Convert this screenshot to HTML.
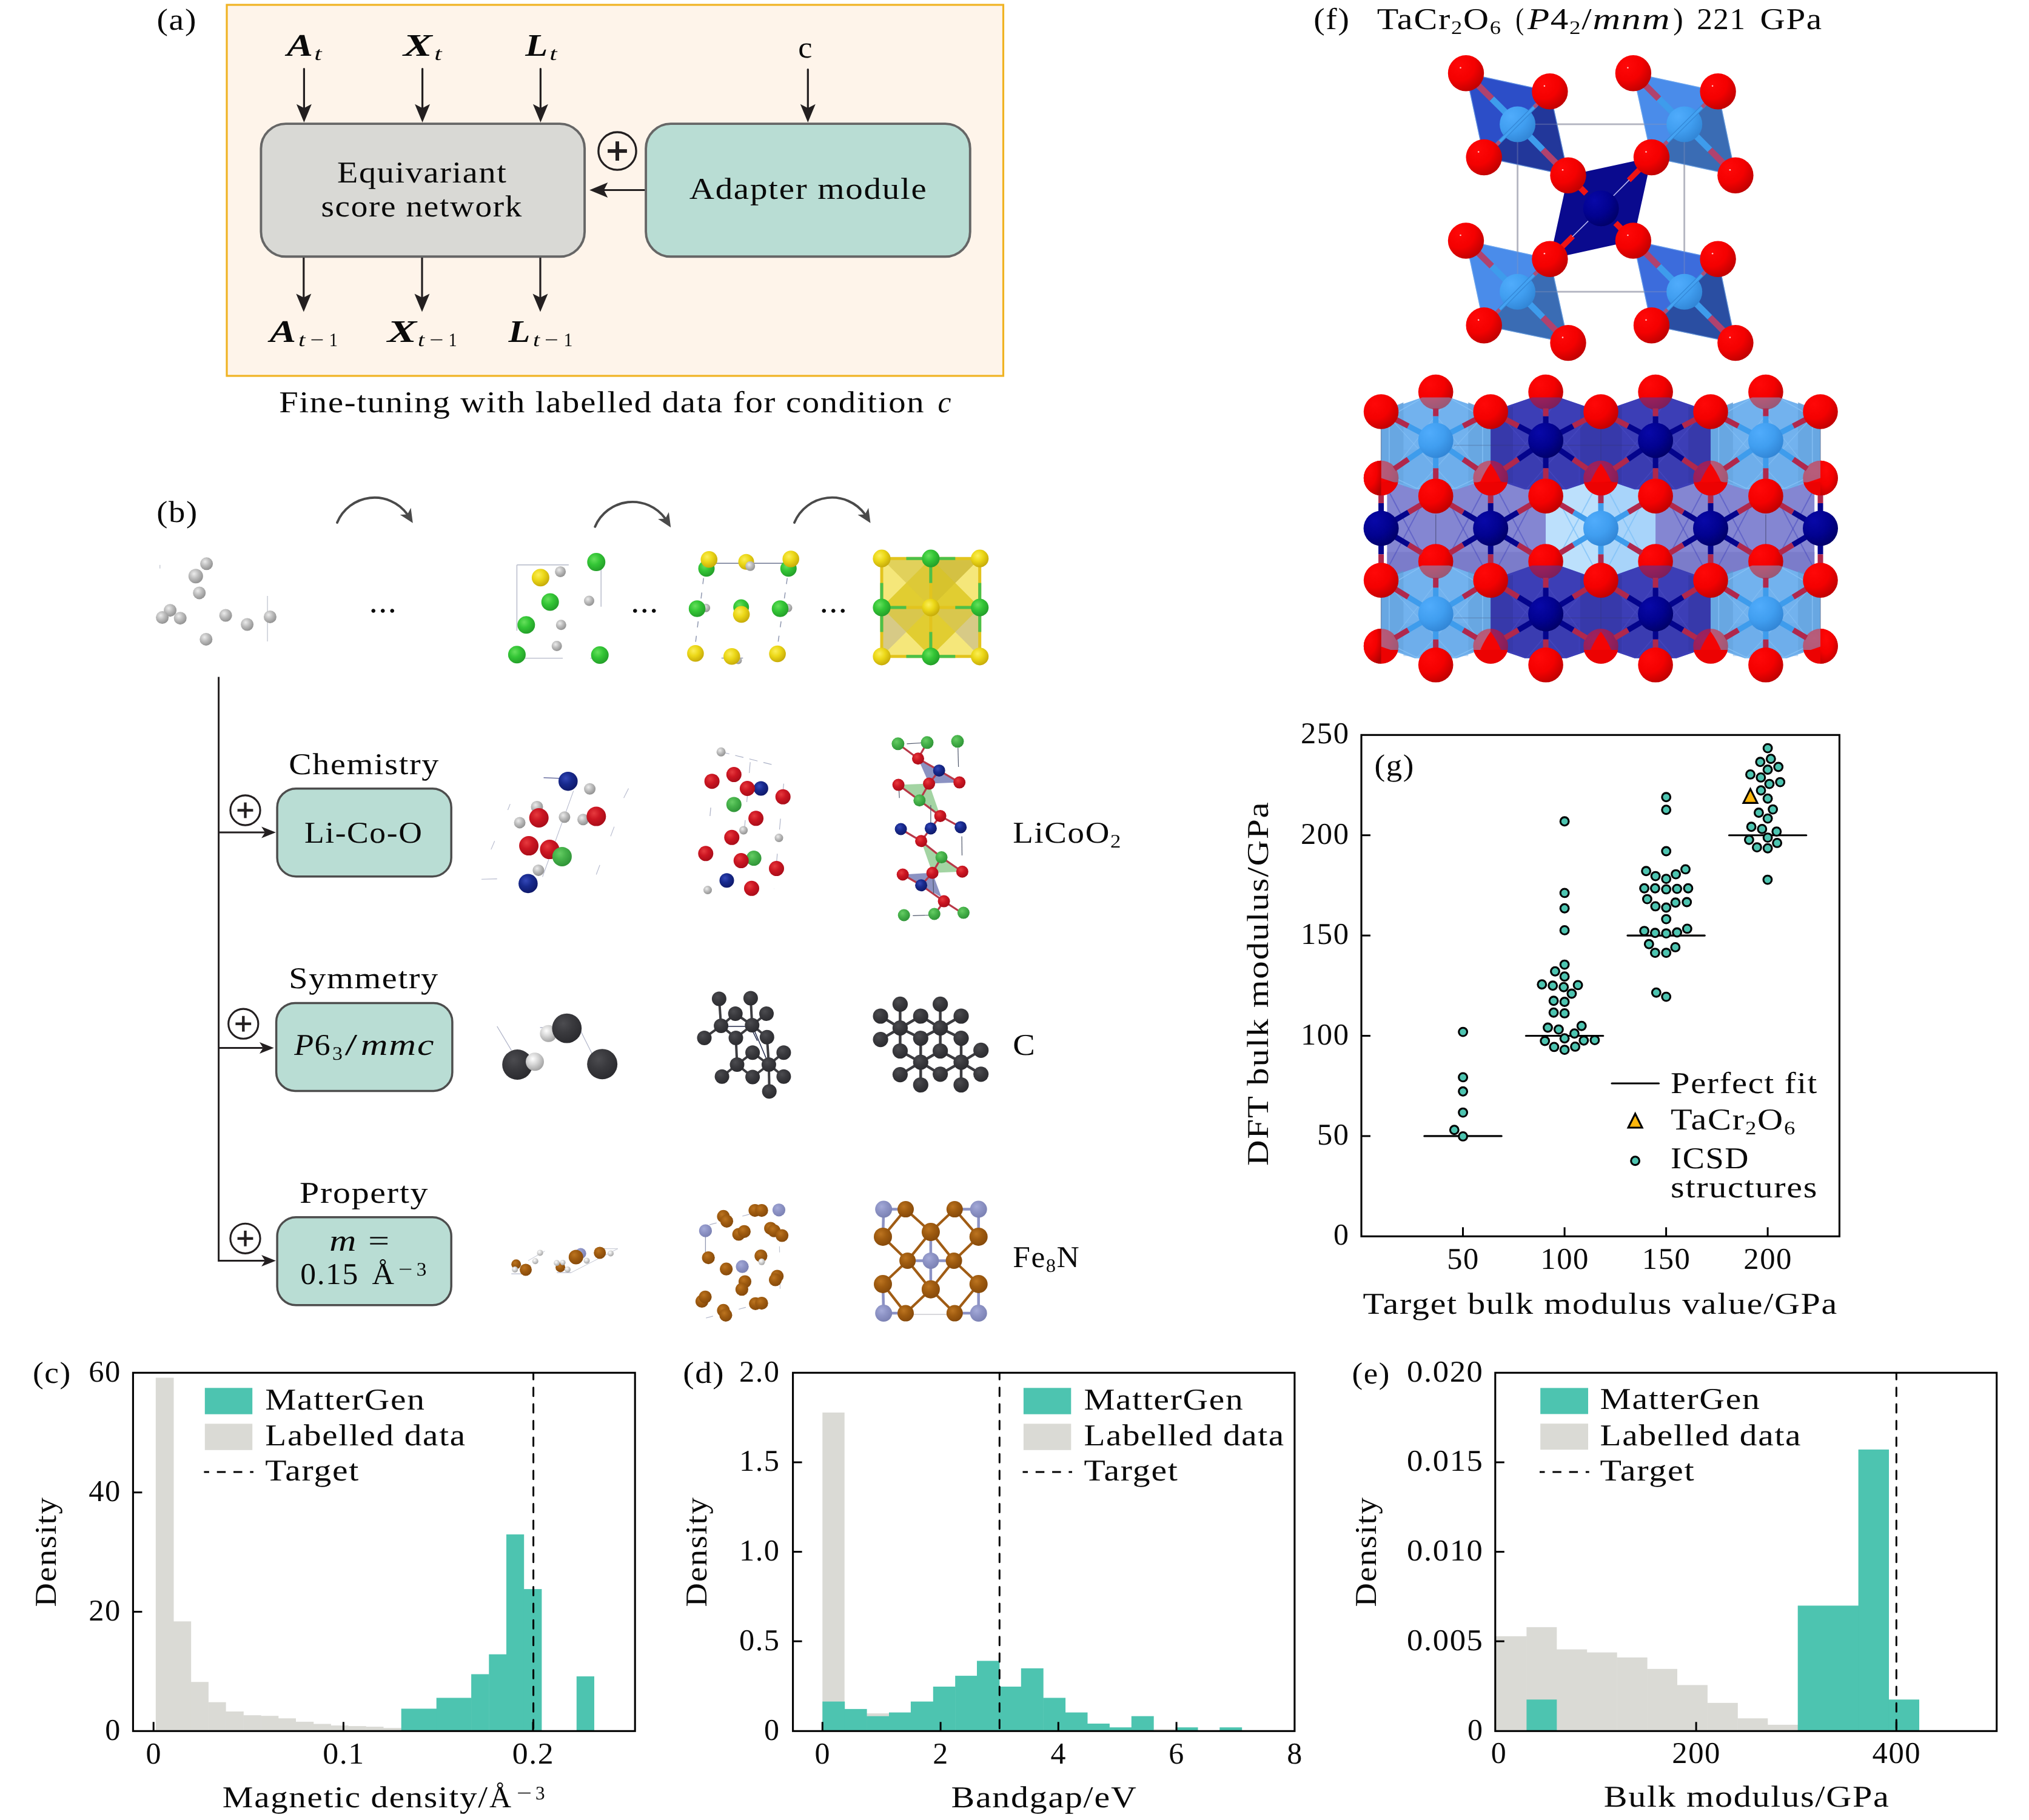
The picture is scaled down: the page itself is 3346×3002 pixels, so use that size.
<!DOCTYPE html>
<html><head><meta charset="utf-8"><title>Figure</title>
<style>html,body{margin:0;padding:0;background:#fff}svg{display:block;opacity:0.9999;will-change:opacity}text{letter-spacing:1.5px;text-rendering:geometricPrecision;font-family:"Liberation Serif",serif;fill:#0a0a0a;stroke:#0a0a0a;stroke-width:0}</style>
</head><body>
<svg width="3346" height="3002" viewBox="0 0 3346 3002">
<defs><radialGradient id="gR" cx="0.38" cy="0.34" r="0.7"><stop offset="0" stop-color="#ff3a2c"/><stop offset="0.45" stop-color="#ee0a0a"/><stop offset="1" stop-color="#c00404"/></radialGradient><radialGradient id="gG" cx="0.38" cy="0.34" r="0.7"><stop offset="0" stop-color="#66e05c"/><stop offset="0.45" stop-color="#34c636"/><stop offset="1" stop-color="#229c28"/></radialGradient><radialGradient id="gY" cx="0.38" cy="0.34" r="0.7"><stop offset="0" stop-color="#fbee58"/><stop offset="0.45" stop-color="#ecd818"/><stop offset="1" stop-color="#c4a808"/></radialGradient><radialGradient id="gS" cx="0.38" cy="0.34" r="0.7"><stop offset="0" stop-color="#ececec"/><stop offset="0.45" stop-color="#bebebe"/><stop offset="1" stop-color="#8e8e8e"/></radialGradient><radialGradient id="gW" cx="0.38" cy="0.34" r="0.7"><stop offset="0" stop-color="#ffffff"/><stop offset="0.45" stop-color="#d6d6d6"/><stop offset="1" stop-color="#a0a0a0"/></radialGradient><radialGradient id="gB" cx="0.38" cy="0.34" r="0.7"><stop offset="0" stop-color="#3448b8"/><stop offset="0.45" stop-color="#182a8e"/><stop offset="1" stop-color="#0e1868"/></radialGradient><radialGradient id="gK" cx="0.38" cy="0.34" r="0.7"><stop offset="0" stop-color="#4c4c50"/><stop offset="0.45" stop-color="#3a3a3e"/><stop offset="1" stop-color="#2a2a2e"/></radialGradient><radialGradient id="gO" cx="0.38" cy="0.34" r="0.7"><stop offset="0" stop-color="#bc7420"/><stop offset="0.45" stop-color="#a05c10"/><stop offset="1" stop-color="#84480a"/></radialGradient><radialGradient id="gL" cx="0.38" cy="0.34" r="0.7"><stop offset="0" stop-color="#a4aad8"/><stop offset="0.45" stop-color="#8e94c6"/><stop offset="1" stop-color="#7a80b2"/></radialGradient><radialGradient id="gR2" cx="0.38" cy="0.34" r="0.7"><stop offset="0" stop-color="#e63a3e"/><stop offset="0.45" stop-color="#cc1622"/><stop offset="1" stop-color="#a60c18"/></radialGradient><radialGradient id="gG2" cx="0.38" cy="0.34" r="0.7"><stop offset="0" stop-color="#66cc64"/><stop offset="0.45" stop-color="#46b24a"/><stop offset="1" stop-color="#2e9236"/></radialGradient><radialGradient id="gC" cx="0.38" cy="0.34" r="0.7"><stop offset="0" stop-color="#5cb8f8"/><stop offset="0.45" stop-color="#3c9cec"/><stop offset="1" stop-color="#2c80d0"/></radialGradient><radialGradient id="gT" cx="0.38" cy="0.34" r="0.7"><stop offset="0" stop-color="#1c1cb8"/><stop offset="0.45" stop-color="#06068c"/><stop offset="1" stop-color="#020260"/></radialGradient><radialGradient id="fR" cx="0.32" cy="0.28" r="0.85"><stop offset="0" stop-color="#ff0808"/><stop offset="0.5" stop-color="#f40000"/><stop offset="1" stop-color="#b40000"/></radialGradient><radialGradient id="fC" cx="0.32" cy="0.28" r="0.85"><stop offset="0" stop-color="#50acfc"/><stop offset="0.5" stop-color="#409ef0"/><stop offset="1" stop-color="#2e80d0"/></radialGradient><radialGradient id="fT" cx="0.32" cy="0.28" r="0.85"><stop offset="0" stop-color="#0808a8"/><stop offset="0.5" stop-color="#020290"/><stop offset="1" stop-color="#000060"/></radialGradient></defs>
<!-- panel a -->
<rect x="374" y="8" width="1280.5" height="612" fill="#FEF4EA" stroke="#F0B323" stroke-width="3.2"/>
<text x="258.5" y="49" font-size="50" textLength="66.5" lengthAdjust="spacingAndGlyphs">(a)</text>
<rect x="430.4" y="204.1" width="533.7" height="219.2" rx="41" fill="#D9D9D5" stroke="#666" stroke-width="3.9"/>
<rect x="1065.1" y="204.1" width="534.7" height="219.2" rx="41" fill="#B9DDD4" stroke="#666" stroke-width="3.9"/>
<line x1="501.4" y1="113.5" x2="501.4" y2="180" stroke="#231F20" stroke-width="3.2" stroke-linecap="round"/>
<polygon points="501.4,202 488.9,171.8 501.4,178.2 513.9,171.8" fill="#231F20"/>
<line x1="696.6" y1="113.5" x2="696.6" y2="180" stroke="#231F20" stroke-width="3.2" stroke-linecap="round"/>
<polygon points="696.6,202 684.1,171.8 696.6,178.2 709.1,171.8" fill="#231F20"/>
<line x1="891.4" y1="113.5" x2="891.4" y2="180" stroke="#231F20" stroke-width="3.2" stroke-linecap="round"/>
<polygon points="891.4,202 878.9,171.8 891.4,178.2 903.9,171.8" fill="#231F20"/>
<line x1="500.8" y1="425" x2="500.8" y2="492" stroke="#231F20" stroke-width="3.2"/>
<polygon points="500.8,514.6 488.3,484.4 500.8,490.8 513.3,484.4" fill="#231F20"/>
<line x1="696" y1="425" x2="696" y2="492" stroke="#231F20" stroke-width="3.2"/>
<polygon points="696,514.6 683.5,484.4 696,490.8 708.5,484.4" fill="#231F20"/>
<line x1="891" y1="425" x2="891" y2="492" stroke="#231F20" stroke-width="3.2"/>
<polygon points="891,514.6 878.5,484.4 891,490.8 903.5,484.4" fill="#231F20"/>
<line x1="1332.3" y1="114.5" x2="1332.3" y2="180" stroke="#231F20" stroke-width="3.2" stroke-linecap="round"/>
<polygon points="1332.3,202 1319.8,171.8 1332.3,178.2 1344.8,171.8" fill="#231F20"/>
<line x1="1063.3" y1="313.5" x2="995" y2="313.5" stroke="#231F20" stroke-width="3.2"/>
<polygon points="972.1,313.5 1002.3,301 995.9,313.5 1002.3,326" fill="#231F20"/>
<circle cx="1018" cy="249.1" r="31.1" fill="none" stroke="#231F20" stroke-width="3.3"/>
<line x1="1002.1" y1="249.1" x2="1033.9" y2="249.1" stroke="#231F20" stroke-width="6"/>
<line x1="1018" y1="233.2" x2="1018" y2="265" stroke="#231F20" stroke-width="6"/>
<text x="473.1" y="91.5" font-size="52" textLength="44.9" lengthAdjust="spacingAndGlyphs" font-style="italic" font-weight="bold">A</text>
<text x="518.3" y="99" font-size="31.5" textLength="14.4" lengthAdjust="spacingAndGlyphs" font-style="italic">t</text>
<text x="665.1" y="91.5" font-size="52" textLength="49.9" lengthAdjust="spacingAndGlyphs" font-style="italic" font-weight="bold">X</text>
<text x="716.2" y="99" font-size="31.5" textLength="14.4" lengthAdjust="spacingAndGlyphs" font-style="italic">t</text>
<text x="866.2" y="91.5" font-size="52" textLength="38.8" lengthAdjust="spacingAndGlyphs" font-style="italic" font-weight="bold">L</text>
<text x="906.2" y="99" font-size="31.5" textLength="14.4" lengthAdjust="spacingAndGlyphs" font-style="italic">t</text>
<text x="1316.2" y="94.6" font-size="50" textLength="24.8" lengthAdjust="spacingAndGlyphs">c</text>
<text x="444.7" y="564" font-size="52" textLength="45.3" lengthAdjust="spacingAndGlyphs" font-style="italic" font-weight="bold">A</text>
<text x="491.9" y="571" font-size="31.5" textLength="13.5" lengthAdjust="spacingAndGlyphs" font-style="italic">t</text>
<text x="511.5" y="571" font-size="31.5" textLength="24.7" lengthAdjust="spacingAndGlyphs">−</text>
<text x="542.8" y="571" font-size="31.5" textLength="15.6" lengthAdjust="spacingAndGlyphs">1</text>
<text x="638.8" y="564" font-size="52" textLength="50.5" lengthAdjust="spacingAndGlyphs" font-style="italic" font-weight="bold">X</text>
<text x="689.1" y="571" font-size="31.5" textLength="13" lengthAdjust="spacingAndGlyphs" font-style="italic">t</text>
<text x="708.2" y="571" font-size="31.5" textLength="25.2" lengthAdjust="spacingAndGlyphs">−</text>
<text x="739.5" y="571" font-size="31.5" textLength="15.6" lengthAdjust="spacingAndGlyphs">1</text>
<text x="838.6" y="564" font-size="52" textLength="37.5" lengthAdjust="spacingAndGlyphs" font-style="italic" font-weight="bold">L</text>
<text x="879" y="571" font-size="31.5" textLength="13" lengthAdjust="spacingAndGlyphs" font-style="italic">t</text>
<text x="898.1" y="571" font-size="31.5" textLength="24.7" lengthAdjust="spacingAndGlyphs">−</text>
<text x="929.4" y="571" font-size="31.5" textLength="16.4" lengthAdjust="spacingAndGlyphs">1</text>
<text x="555.9" y="300.5" font-size="50" textLength="280.7" lengthAdjust="spacingAndGlyphs">Equivariant</text>
<text x="529.5" y="356.9" font-size="50" textLength="332.4" lengthAdjust="spacingAndGlyphs">score network</text>
<text x="1136.8" y="327.8" font-size="50" textLength="392.7" lengthAdjust="spacingAndGlyphs">Adapter module</text>
<text x="460.2" y="680.3" font-size="50" textLength="1065.2" lengthAdjust="spacingAndGlyphs">Fine-tuning with labelled data for condition</text>
<text x="1546.5" y="680.3" font-size="50" textLength="23.4" lengthAdjust="spacingAndGlyphs" font-style="italic">c</text>
<!-- panel b -->
<text x="258.2" y="860.8" font-size="50" textLength="68.5" lengthAdjust="spacingAndGlyphs">(b)</text>
<path d="M556 862 A66.8 66.8 0 0 1 671.8 848.4" fill="none" stroke="#4a4a4a" stroke-width="3.9" stroke-linecap="round"/>
<polygon points="680.8,862.8 659.7,848.9 671.8,848.4 677.5,837.7" fill="#4a4a4a"/>
<path d="M981.3 868.7 A67 67 0 0 1 1097.2 855.5" fill="none" stroke="#4a4a4a" stroke-width="3.9" stroke-linecap="round"/>
<polygon points="1106.2,869.9 1085.1,856 1097.2,855.5 1102.9,844.8" fill="#4a4a4a"/>
<path d="M1310 862 A67.3 67.3 0 0 1 1426.5 848.4" fill="none" stroke="#4a4a4a" stroke-width="3.9" stroke-linecap="round"/>
<polygon points="1435.5,862.8 1414.4,848.9 1426.5,848.4 1432.2,837.7" fill="#4a4a4a"/>
<text x="608.8" y="1009.7" font-size="56" stroke="none" letter-spacing="3.4">...</text>
<text x="1040.2" y="1009.7" font-size="56" stroke="none" letter-spacing="3.4">...</text>
<text x="1351.7" y="1009.7" font-size="56" stroke="none" letter-spacing="3.4">...</text>
<line x1="441.1" y1="983.1" x2="441.1" y2="1058" stroke="#ccd0d8" stroke-width="1.6"/>
<line x1="263.7" y1="931.8" x2="263.7" y2="937.7" stroke="#c8ccd4" stroke-width="1.5"/>
<circle cx="340.6" cy="929.8" r="10.5" fill="url(#gS)"/>
<circle cx="322.8" cy="950.3" r="12" fill="url(#gS)"/>
<circle cx="328.7" cy="977.9" r="10.5" fill="url(#gS)"/>
<circle cx="280.6" cy="1006.7" r="10.5" fill="url(#gS)"/>
<circle cx="267.6" cy="1018.6" r="10.5" fill="url(#gS)"/>
<circle cx="297.2" cy="1019.7" r="10.5" fill="url(#gS)"/>
<circle cx="372.1" cy="1015" r="10.5" fill="url(#gS)"/>
<circle cx="407.6" cy="1030" r="10.5" fill="url(#gS)"/>
<circle cx="445.4" cy="1017.4" r="10.5" fill="url(#gS)"/>
<circle cx="339.8" cy="1054.4" r="10.5" fill="url(#gS)"/>
<line x1="852.4" y1="931.8" x2="937.9" y2="931.8" stroke="#b4b8c8" stroke-width="1.4"/>
<line x1="852.4" y1="931.8" x2="852.4" y2="1040.3" stroke="#b4b8c8" stroke-width="1.4"/>
<line x1="859.1" y1="1085.6" x2="928.1" y2="1085.6" stroke="#b4b8c8" stroke-width="1.4"/>
<line x1="991.2" y1="931.8" x2="991.2" y2="1000.8" stroke="#b4b8c8" stroke-width="1.4"/>
<line x1="973.4" y1="1085.6" x2="999.1" y2="1085.6" stroke="#b4b8c8" stroke-width="1.4"/>
<circle cx="924.1" cy="942.9" r="9" fill="url(#gS)"/>
<circle cx="971.5" cy="991" r="8.5" fill="url(#gS)"/>
<circle cx="925.3" cy="1030.8" r="8.5" fill="url(#gS)"/>
<circle cx="918.2" cy="1065.5" r="8.5" fill="url(#gS)"/>
<circle cx="983.3" cy="927.1" r="15" fill="url(#gG)"/>
<circle cx="891.4" cy="952.7" r="14.5" fill="url(#gY)"/>
<circle cx="907.2" cy="992.9" r="14.5" fill="url(#gG)"/>
<circle cx="867.8" cy="1030.8" r="14.5" fill="url(#gG)"/>
<circle cx="852.4" cy="1079.7" r="14.5" fill="url(#gG)"/>
<circle cx="989.2" cy="1080.5" r="14.5" fill="url(#gG)"/>
<line x1="1169.3" y1="929.1" x2="1304.2" y2="929.1" stroke="#8088a0" stroke-width="1.6"/>
<line x1="1160.3" y1="953.5" x2="1146.5" y2="1063.9" stroke="#9098b0" stroke-width="1.5" stroke-dasharray="10 14"/>
<line x1="1298.3" y1="953.5" x2="1282.5" y2="1063.9" stroke="#9098b0" stroke-width="1.5" stroke-dasharray="10 14"/>
<line x1="1189.8" y1="1085.6" x2="1225.3" y2="1085.6" stroke="#9098b0" stroke-width="1.5"/>
<circle cx="1165" cy="937.7" r="13.5" fill="url(#gG)"/>
<circle cx="1300.3" cy="937.7" r="13.5" fill="url(#gG)"/>
<circle cx="1164.2" cy="1002.8" r="7" fill="url(#gS)"/>
<circle cx="1299.5" cy="1002.8" r="7" fill="url(#gS)"/>
<circle cx="1169.3" cy="922.7" r="13.8" fill="url(#gY)"/>
<circle cx="1230.5" cy="926.7" r="13" fill="url(#gY)"/>
<circle cx="1237.2" cy="933.8" r="8" fill="url(#gS)"/>
<circle cx="1304.2" cy="922" r="13.8" fill="url(#gY)"/>
<circle cx="1149.6" cy="1004" r="13.8" fill="url(#gG)"/>
<circle cx="1222.2" cy="1001.6" r="13" fill="url(#gG)"/>
<circle cx="1222.6" cy="1013.4" r="13.8" fill="url(#gY)"/>
<circle cx="1286.5" cy="1004" r="13.8" fill="url(#gG)"/>
<circle cx="1146.9" cy="1077.7" r="13.8" fill="url(#gY)"/>
<circle cx="1217.4" cy="1089.5" r="6" fill="url(#gS)"/>
<circle cx="1206.8" cy="1082.8" r="13.8" fill="url(#gY)"/>
<circle cx="1282.1" cy="1078.5" r="13.8" fill="url(#gY)"/>
<rect x="1454" y="921.2" width="161.7" height="161.7" fill="#E6D23C"/>
<polygon points="1454,921.2 1534.9,921.2 1454,1002" fill="#F5E77A"/>
<polygon points="1615.7,921.2 1534.9,921.2 1615.7,1002" fill="#F5E77A"/>
<polygon points="1454,1082.8 1534.9,1082.8 1454,1002" fill="#F5E77A"/>
<polygon points="1615.7,1082.8 1534.9,1082.8 1615.7,1002" fill="#F5E77A"/>
<polygon points="1534.9,921.2 1615.7,921.2 1534.9,1002" fill="#C8B432" opacity="0.75"/>
<polygon points="1454,921.2 1534.9,921.2 1534.9,1002" fill="#D9C84E" opacity="0.7"/>
<polygon points="1454,1002 1454,1082.8 1534.9,1002" fill="#CFC389" opacity="0.8"/>
<polygon points="1615.7,1002 1615.7,1082.8 1534.9,1002" fill="#CFC389" opacity="0.8"/>
<polygon points="1534.9,921.2 1615.7,1002 1534.9,1082.8 1454,1002" fill="#DCC828" opacity="0.55"/>
<line x1="1454" y1="921.2" x2="1615.7" y2="921.2" stroke="#E2C41E" stroke-width="5"/>
<line x1="1454" y1="1082.8" x2="1615.7" y2="1082.8" stroke="#E2C41E" stroke-width="5"/>
<line x1="1454" y1="921.2" x2="1454" y2="1082.8" stroke="#E2C41E" stroke-width="5"/>
<line x1="1615.7" y1="921.2" x2="1615.7" y2="1082.8" stroke="#E2C41E" stroke-width="5"/>
<line x1="1534.9" y1="921.2" x2="1534.9" y2="1082.8" stroke="#E2C41E" stroke-width="5"/>
<line x1="1454" y1="1002" x2="1615.7" y2="1002" stroke="#E2C41E" stroke-width="5"/>
<line x1="1494.5" y1="921.2" x2="1575.3" y2="921.2" stroke="#4CC048" stroke-width="5"/>
<line x1="1494.5" y1="1082.8" x2="1575.3" y2="1082.8" stroke="#4CC048" stroke-width="5"/>
<line x1="1454" y1="961.6" x2="1454" y2="1042.4" stroke="#4CC048" stroke-width="5"/>
<line x1="1615.7" y1="961.6" x2="1615.7" y2="1042.4" stroke="#4CC048" stroke-width="5"/>
<line x1="1534.9" y1="921.2" x2="1534.9" y2="961.6" stroke="#4CC048" stroke-width="5"/>
<line x1="1534.9" y1="1042.4" x2="1534.9" y2="1082.8" stroke="#4CC048" stroke-width="5"/>
<line x1="1454" y1="1002" x2="1494.5" y2="1002" stroke="#4CC048" stroke-width="5"/>
<line x1="1575.3" y1="1002" x2="1615.7" y2="1002" stroke="#4CC048" stroke-width="5"/>
<circle cx="1454" cy="921.2" r="14.6" fill="url(#gY)"/>
<circle cx="1454" cy="1002" r="14.6" fill="url(#gG)"/>
<circle cx="1454" cy="1082.8" r="14.6" fill="url(#gY)"/>
<circle cx="1534.9" cy="921.2" r="14.6" fill="url(#gG)"/>
<circle cx="1534.9" cy="1002" r="14.6" fill="url(#gY)"/>
<circle cx="1534.9" cy="1082.8" r="14.6" fill="url(#gG)"/>
<circle cx="1615.7" cy="921.2" r="14.6" fill="url(#gY)"/>
<circle cx="1615.7" cy="1002" r="14.6" fill="url(#gG)"/>
<circle cx="1615.7" cy="1082.8" r="14.6" fill="url(#gY)"/>
<line x1="360.6" y1="1116.4" x2="360.6" y2="2081" stroke="#231F20" stroke-width="3"/>
<rect x="457.1" y="1300.7" width="287.1" height="145" rx="31" fill="#B9DDD4" stroke="#4D4D4D" stroke-width="3.5"/>
<line x1="360.6" y1="1373.1" x2="436.9" y2="1373.1" stroke="#231F20" stroke-width="3"/>
<polygon points="454.9,1373.1 431.1,1363.6 437.1,1373.1 431.1,1382.6" fill="#231F20"/>
<circle cx="404.5" cy="1336.5" r="24.6" fill="none" stroke="#231F20" stroke-width="3.1"/>
<line x1="391.6" y1="1336.5" x2="417.4" y2="1336.5" stroke="#231F20" stroke-width="4.4"/>
<line x1="404.5" y1="1323.6" x2="404.5" y2="1349.4" stroke="#231F20" stroke-width="4.4"/>
<rect x="455.6" y="1654.4" width="290.3" height="145" rx="31" fill="#B9DDD4" stroke="#4D4D4D" stroke-width="3.5"/>
<line x1="360.6" y1="1728.6" x2="433.7" y2="1728.6" stroke="#231F20" stroke-width="3"/>
<polygon points="451.7,1728.6 427.9,1719.1 433.9,1728.6 427.9,1738.1" fill="#231F20"/>
<circle cx="401.3" cy="1688.7" r="24.6" fill="none" stroke="#231F20" stroke-width="3.1"/>
<line x1="388.4" y1="1688.7" x2="414.2" y2="1688.7" stroke="#231F20" stroke-width="4.4"/>
<line x1="401.3" y1="1675.8" x2="401.3" y2="1701.6" stroke="#231F20" stroke-width="4.4"/>
<rect x="457.1" y="2007.8" width="287.1" height="145" rx="31" fill="#B9DDD4" stroke="#4D4D4D" stroke-width="3.5"/>
<line x1="360.6" y1="2079.5" x2="436.9" y2="2079.5" stroke="#231F20" stroke-width="3"/>
<polygon points="454.9,2079.5 431.1,2070 437.1,2079.5 431.1,2089" fill="#231F20"/>
<circle cx="404.5" cy="2042.8" r="24.6" fill="none" stroke="#231F20" stroke-width="3.1"/>
<line x1="391.6" y1="2042.8" x2="417.4" y2="2042.8" stroke="#231F20" stroke-width="4.4"/>
<line x1="404.5" y1="2029.9" x2="404.5" y2="2055.7" stroke="#231F20" stroke-width="4.4"/>
<text x="476.3" y="1276.8" font-size="50" textLength="248.7" lengthAdjust="spacingAndGlyphs">Chemistry</text>
<text x="501.9" y="1390.4" font-size="50" textLength="195.5" lengthAdjust="spacingAndGlyphs">Li-Co-O</text>
<text x="476.3" y="1629.8" font-size="50" textLength="247.6" lengthAdjust="spacingAndGlyphs">Symmetry</text>
<text x="485.2" y="1739.5" font-size="50" textLength="33.4" lengthAdjust="spacingAndGlyphs" font-style="italic">P</text>
<text x="518.6" y="1739.5" font-size="50" textLength="27.7" lengthAdjust="spacingAndGlyphs">6</text>
<text x="548" y="1747.5" font-size="31.5" textLength="18.5" lengthAdjust="spacingAndGlyphs" stroke-width="0.7">3</text>
<text x="568.5" y="1739.5" font-size="50" textLength="23" lengthAdjust="spacingAndGlyphs">/</text>
<text x="594.7" y="1739.5" font-size="50" textLength="122.7" lengthAdjust="spacingAndGlyphs" font-style="italic" letter-spacing="4">mmc</text>
<text x="494" y="1983.9" font-size="50" textLength="213.3" lengthAdjust="spacingAndGlyphs">Property</text>
<text x="543.3" y="2063.3" font-size="50" textLength="45.9" lengthAdjust="spacingAndGlyphs" font-style="italic">m</text>
<text x="607.2" y="2063.3" font-size="50" textLength="36.7" lengthAdjust="spacingAndGlyphs">=</text>
<text x="495.3" y="2117.8" font-size="50" textLength="96.5" lengthAdjust="spacingAndGlyphs">0.15</text>
<text x="613.5" y="2117.8" font-size="50" textLength="38" lengthAdjust="spacingAndGlyphs">Å</text>
<text x="656.9" y="2104.4" font-size="31.5" textLength="25.3" lengthAdjust="spacingAndGlyphs" stroke-width="0.7">−</text>
<text x="686.8" y="2104.4" font-size="31.5" textLength="18.3" lengthAdjust="spacingAndGlyphs" stroke-width="0.7">3</text>
<text x="1670.2" y="1390.4" font-size="50" textLength="160.8" lengthAdjust="spacingAndGlyphs">LiCoO</text>
<text x="1831" y="1398.4" font-size="31.5" textLength="19" lengthAdjust="spacingAndGlyphs" stroke-width="0.7">2</text>
<text x="1670.2" y="1739.5" font-size="50" textLength="38.2" lengthAdjust="spacingAndGlyphs">C</text>
<text x="1670.2" y="2090.4" font-size="50" textLength="54.6" lengthAdjust="spacingAndGlyphs">Fe</text>
<text x="1724.8" y="2098.4" font-size="31.5" textLength="17.8" lengthAdjust="spacingAndGlyphs" stroke-width="0.7">8</text>
<text x="1742.6" y="2090.4" font-size="50" textLength="38.8" lengthAdjust="spacingAndGlyphs">N</text>
<line x1="794" y1="1450.3" x2="819.7" y2="1449.6" stroke="#b4b8cc" stroke-width="1.1"/>
<line x1="945.8" y1="1304.4" x2="894.6" y2="1446.4" stroke="#b4b8cc" stroke-width="1.1"/>
<line x1="841.3" y1="1326.1" x2="837.4" y2="1336" stroke="#b4b8cc" stroke-width="1.1"/>
<line x1="815.7" y1="1387.3" x2="809.8" y2="1401.1" stroke="#b4b8cc" stroke-width="1.1"/>
<line x1="1036.5" y1="1300.5" x2="1028.6" y2="1316.3" stroke="#b4b8cc" stroke-width="1.1"/>
<line x1="1012.9" y1="1363.6" x2="1007" y2="1379.4" stroke="#b4b8cc" stroke-width="1.1"/>
<line x1="989.2" y1="1426.7" x2="983.3" y2="1442.5" stroke="#b4b8cc" stroke-width="1.1"/>
<line x1="896.5" y1="1282.8" x2="926.1" y2="1283.9" stroke="#6a70a0" stroke-width="1.5"/>
<circle cx="972.6" cy="1301.3" r="9.5" fill="url(#gS)"/>
<circle cx="885.5" cy="1330.9" r="10" fill="url(#gS)"/>
<circle cx="857.1" cy="1356.9" r="9.5" fill="url(#gS)"/>
<circle cx="930.9" cy="1347.8" r="9.5" fill="url(#gS)"/>
<circle cx="961.6" cy="1351.8" r="9.5" fill="url(#gS)"/>
<circle cx="887.9" cy="1435.4" r="9.5" fill="url(#gS)"/>
<circle cx="936.8" cy="1288.7" r="15.8" fill="url(#gB)"/>
<circle cx="888.7" cy="1349" r="16" fill="url(#gR2)"/>
<circle cx="983.3" cy="1346.6" r="16" fill="url(#gR2)"/>
<circle cx="872.1" cy="1395.1" r="16" fill="url(#gR2)"/>
<circle cx="906.4" cy="1401.1" r="16" fill="url(#gR2)"/>
<circle cx="926.9" cy="1412.9" r="16" fill="url(#gG2)"/>
<circle cx="870.9" cy="1457.4" r="15.8" fill="url(#gB)"/>
<line x1="1189.1" y1="1240.2" x2="1280.5" y2="1263" stroke="#a8aec4" stroke-width="1.1" stroke-dasharray="14 10"/>
<line x1="1237.2" y1="1257.1" x2="1225.3" y2="1395.1" stroke="#a8aec4" stroke-width="1.1" stroke-dasharray="18 30"/>
<line x1="1292.4" y1="1292.6" x2="1276.6" y2="1466.1" stroke="#a8aec4" stroke-width="1.1" stroke-dasharray="18 40"/>
<line x1="1172.1" y1="1332.1" x2="1160.3" y2="1466.1" stroke="#b0b4c8" stroke-width="1.3" stroke-dasharray="14 60"/>
<circle cx="1189.1" cy="1240.2" r="7.5" fill="url(#gS)"/>
<circle cx="1226.1" cy="1369.5" r="7" fill="url(#gS)"/>
<circle cx="1284.5" cy="1382.1" r="7" fill="url(#gS)"/>
<circle cx="1167" cy="1468.1" r="7" fill="url(#gS)"/>
<circle cx="1174.1" cy="1288.7" r="12.5" fill="url(#gR2)"/>
<circle cx="1210.3" cy="1277.6" r="12.5" fill="url(#gR2)"/>
<circle cx="1254.9" cy="1300.5" r="12" fill="url(#gB)"/>
<circle cx="1232.4" cy="1300.5" r="12.5" fill="url(#gR2)"/>
<circle cx="1291.2" cy="1314.3" r="12.5" fill="url(#gR2)"/>
<circle cx="1210.3" cy="1326.9" r="12.5" fill="url(#gG2)"/>
<circle cx="1246.6" cy="1349.8" r="12.5" fill="url(#gR2)"/>
<circle cx="1206.8" cy="1381.3" r="12.5" fill="url(#gR2)"/>
<circle cx="1163.8" cy="1407.8" r="12.5" fill="url(#gR2)"/>
<circle cx="1243.1" cy="1415.6" r="12.5" fill="url(#gG2)"/>
<circle cx="1222.2" cy="1419.6" r="12.5" fill="url(#gR2)"/>
<circle cx="1280.5" cy="1432.6" r="12.5" fill="url(#gR2)"/>
<circle cx="1198.5" cy="1452.3" r="12" fill="url(#gB)"/>
<circle cx="1239.5" cy="1465.3" r="12.5" fill="url(#gR2)"/>
<polygon points="1514,1251.2 1548.7,1270.9 1582.2,1290.6 1532.1,1292.6" fill="#5a64a8" opacity="0.7"/>
<polygon points="1481.6,1294.6 1532.1,1292.6 1550.6,1345.9 1516.3,1320.2" fill="#58b058" opacity="0.55"/>
<polygon points="1519.1,1387.3 1552.6,1414.1 1586.9,1437.7 1537.6,1439.7" fill="#58b058" opacity="0.55"/>
<polygon points="1488.7,1442.5 1537.6,1439.7 1552.6,1479.9 1519.1,1460.2" fill="#5a64a8" opacity="0.7"/>
<line x1="1480.9" y1="1226.8" x2="1514" y2="1251.2" stroke="#b83848" stroke-width="3.2"/>
<line x1="1529" y1="1224.8" x2="1514" y2="1251.2" stroke="#b83848" stroke-width="3.2"/>
<line x1="1514" y1="1251.2" x2="1548.7" y2="1270.9" stroke="#b83848" stroke-width="3.2"/>
<line x1="1548.7" y1="1270.9" x2="1582.2" y2="1290.6" stroke="#b83848" stroke-width="3.2"/>
<line x1="1548.7" y1="1270.9" x2="1532.1" y2="1292.6" stroke="#b83848" stroke-width="3.2"/>
<line x1="1532.1" y1="1292.6" x2="1516.3" y2="1320.2" stroke="#b83848" stroke-width="3.2"/>
<line x1="1481.6" y1="1294.6" x2="1516.3" y2="1320.2" stroke="#b83848" stroke-width="3.2"/>
<line x1="1516.3" y1="1320.2" x2="1550.6" y2="1345.9" stroke="#b83848" stroke-width="3.2"/>
<line x1="1550.6" y1="1345.9" x2="1584.2" y2="1364.4" stroke="#b83848" stroke-width="3.2"/>
<line x1="1550.6" y1="1345.9" x2="1534.9" y2="1366.4" stroke="#b83848" stroke-width="3.2"/>
<line x1="1534.9" y1="1366.4" x2="1519.1" y2="1387.3" stroke="#b83848" stroke-width="3.2"/>
<line x1="1485.6" y1="1367.5" x2="1519.1" y2="1387.3" stroke="#b83848" stroke-width="3.2"/>
<line x1="1519.1" y1="1387.3" x2="1552.6" y2="1414.1" stroke="#b83848" stroke-width="3.2"/>
<line x1="1552.6" y1="1414.1" x2="1586.9" y2="1437.7" stroke="#b83848" stroke-width="3.2"/>
<line x1="1552.6" y1="1414.1" x2="1537.6" y2="1439.7" stroke="#b83848" stroke-width="3.2"/>
<line x1="1537.6" y1="1439.7" x2="1519.1" y2="1460.2" stroke="#b83848" stroke-width="3.2"/>
<line x1="1488.7" y1="1442.5" x2="1519.1" y2="1460.2" stroke="#b83848" stroke-width="3.2"/>
<line x1="1519.1" y1="1460.2" x2="1556.6" y2="1486.6" stroke="#b83848" stroke-width="3.2"/>
<line x1="1556.6" y1="1486.6" x2="1540.8" y2="1509.5" stroke="#b83848" stroke-width="3.2"/>
<line x1="1556.6" y1="1486.6" x2="1588.9" y2="1507.5" stroke="#b83848" stroke-width="3.2"/>
<line x1="1495.4" y1="1226.8" x2="1529" y2="1224.8" stroke="#50586c" stroke-width="1.2"/>
<line x1="1579.8" y1="1233.5" x2="1580.6" y2="1265" stroke="#50586c" stroke-width="1.2"/>
<line x1="1482.4" y1="1300.5" x2="1483.2" y2="1316.3" stroke="#50586c" stroke-width="1.2"/>
<line x1="1586.1" y1="1379.4" x2="1586.5" y2="1410.9" stroke="#50586c" stroke-width="1.2"/>
<line x1="1534.9" y1="1328.1" x2="1534.9" y2="1359.7" stroke="#50586c" stroke-width="1.2"/>
<line x1="1538.8" y1="1450.3" x2="1539.6" y2="1474" stroke="#50586c" stroke-width="1.2"/>
<line x1="1505.3" y1="1510.3" x2="1532.9" y2="1509.5" stroke="#50586c" stroke-width="1.2"/>
<circle cx="1480.9" cy="1226.8" r="10.5" fill="url(#gG2)"/>
<circle cx="1529" cy="1224.8" r="10.5" fill="url(#gG2)"/>
<circle cx="1579" cy="1222.8" r="10.5" fill="url(#gG2)"/>
<circle cx="1514" cy="1251.2" r="10" fill="url(#gR2)"/>
<circle cx="1548.7" cy="1270.9" r="10" fill="url(#gB)"/>
<circle cx="1481.6" cy="1294.6" r="10" fill="url(#gR2)"/>
<circle cx="1532.1" cy="1292.6" r="10" fill="url(#gR2)"/>
<circle cx="1582.2" cy="1290.6" r="10" fill="url(#gR2)"/>
<circle cx="1516.3" cy="1320.2" r="10" fill="url(#gG2)"/>
<circle cx="1550.6" cy="1345.9" r="10" fill="url(#gR2)"/>
<circle cx="1485.6" cy="1367.5" r="10" fill="url(#gB)"/>
<circle cx="1534.9" cy="1366.4" r="10" fill="url(#gB)"/>
<circle cx="1584.2" cy="1364.4" r="10" fill="url(#gB)"/>
<circle cx="1519.1" cy="1387.3" r="10" fill="url(#gR2)"/>
<circle cx="1552.6" cy="1414.1" r="10" fill="url(#gG2)"/>
<circle cx="1488.7" cy="1442.5" r="10" fill="url(#gR2)"/>
<circle cx="1537.6" cy="1439.7" r="10" fill="url(#gR2)"/>
<circle cx="1586.9" cy="1437.7" r="10" fill="url(#gR2)"/>
<circle cx="1519.1" cy="1460.2" r="10" fill="url(#gB)"/>
<circle cx="1556.6" cy="1486.6" r="10" fill="url(#gR2)"/>
<circle cx="1490.7" cy="1509.5" r="10" fill="url(#gG2)"/>
<circle cx="1540.8" cy="1507.5" r="10" fill="url(#gG2)"/>
<circle cx="1588.9" cy="1505.6" r="10" fill="url(#gG2)"/>
<line x1="819.7" y1="1692.9" x2="843.3" y2="1732.4" stroke="#b0b4c8" stroke-width="1.2"/>
<line x1="957.7" y1="1700.8" x2="977.4" y2="1740.3" stroke="#b0b4c8" stroke-width="1.2"/>
<line x1="890.6" y1="1694.9" x2="910.3" y2="1694.9" stroke="#b0b4c8" stroke-width="1.5"/>
<circle cx="904.4" cy="1704.8" r="14" fill="url(#gW)"/>
<circle cx="934.8" cy="1696.1" r="24.4" fill="url(#gK)"/>
<circle cx="853.2" cy="1756" r="25" fill="url(#gK)"/>
<circle cx="882" cy="1751.3" r="15" fill="url(#gW)"/>
<circle cx="993.2" cy="1755.2" r="25" fill="url(#gK)"/>
<line x1="1185.9" y1="1647.6" x2="1189.1" y2="1692.1" stroke="#3c3c40" stroke-width="4"/>
<line x1="1237.9" y1="1646.4" x2="1240.3" y2="1691" stroke="#3c3c40" stroke-width="4"/>
<line x1="1189.1" y1="1692.1" x2="1161.5" y2="1711.9" stroke="#3c3c40" stroke-width="4"/>
<line x1="1189.1" y1="1692.1" x2="1212.7" y2="1672" stroke="#3c3c40" stroke-width="4"/>
<line x1="1189.1" y1="1692.1" x2="1213.5" y2="1711.9" stroke="#3c3c40" stroke-width="4"/>
<line x1="1240.3" y1="1691" x2="1212.7" y2="1672" stroke="#3c3c40" stroke-width="4"/>
<line x1="1240.3" y1="1691" x2="1264" y2="1672" stroke="#3c3c40" stroke-width="4"/>
<line x1="1240.3" y1="1691" x2="1213.5" y2="1711.9" stroke="#3c3c40" stroke-width="4"/>
<line x1="1240.3" y1="1691" x2="1264.8" y2="1710.7" stroke="#3c3c40" stroke-width="4"/>
<line x1="1213.5" y1="1711.9" x2="1215.5" y2="1756" stroke="#3c3c40" stroke-width="4"/>
<line x1="1264.8" y1="1710.7" x2="1267.9" y2="1756" stroke="#3c3c40" stroke-width="4"/>
<line x1="1241.1" y1="1736.3" x2="1215.5" y2="1756" stroke="#3c3c40" stroke-width="4"/>
<line x1="1241.1" y1="1736.3" x2="1267.9" y2="1756" stroke="#3c3c40" stroke-width="4"/>
<line x1="1292.4" y1="1736.3" x2="1267.9" y2="1756" stroke="#3c3c40" stroke-width="4"/>
<line x1="1215.5" y1="1756" x2="1190.6" y2="1775.7" stroke="#3c3c40" stroke-width="4"/>
<line x1="1215.5" y1="1756" x2="1241.1" y2="1776.5" stroke="#3c3c40" stroke-width="4"/>
<line x1="1267.9" y1="1756" x2="1241.1" y2="1776.5" stroke="#3c3c40" stroke-width="4"/>
<line x1="1267.9" y1="1756" x2="1292.4" y2="1775.7" stroke="#3c3c40" stroke-width="4"/>
<line x1="1267.9" y1="1756" x2="1268.7" y2="1800.2" stroke="#3c3c40" stroke-width="4"/>
<line x1="1189.1" y1="1692.9" x2="1240.3" y2="1692.9" stroke="#202848" stroke-width="1.5"/>
<line x1="1240.3" y1="1691" x2="1267.9" y2="1756" stroke="#202848" stroke-width="1.5"/>
<line x1="1237.2" y1="1692.9" x2="1249" y2="1716.6" stroke="#202848" stroke-width="1.5"/>
<circle cx="1185.9" cy="1647.6" r="12" fill="url(#gK)"/>
<circle cx="1237.9" cy="1646.4" r="12" fill="url(#gK)"/>
<circle cx="1212.7" cy="1672" r="12" fill="url(#gK)"/>
<circle cx="1264" cy="1672" r="12" fill="url(#gK)"/>
<circle cx="1189.1" cy="1692.1" r="12" fill="url(#gK)"/>
<circle cx="1240.3" cy="1691" r="12" fill="url(#gK)"/>
<circle cx="1161.5" cy="1711.9" r="12" fill="url(#gK)"/>
<circle cx="1213.5" cy="1711.9" r="12" fill="url(#gK)"/>
<circle cx="1264.8" cy="1710.7" r="12" fill="url(#gK)"/>
<circle cx="1241.1" cy="1736.3" r="12" fill="url(#gK)"/>
<circle cx="1292.4" cy="1736.3" r="12" fill="url(#gK)"/>
<circle cx="1215.5" cy="1756" r="12" fill="url(#gK)"/>
<circle cx="1267.9" cy="1756" r="12" fill="url(#gK)"/>
<circle cx="1190.6" cy="1775.7" r="12" fill="url(#gK)"/>
<circle cx="1241.1" cy="1776.5" r="12" fill="url(#gK)"/>
<circle cx="1292.4" cy="1775.7" r="12" fill="url(#gK)"/>
<circle cx="1268.7" cy="1800.2" r="12" fill="url(#gK)"/>
<line x1="1484.4" y1="1695.7" x2="1484.4" y2="1656.3" stroke="#3c3c40" stroke-width="4.5"/>
<line x1="1484.4" y1="1695.7" x2="1452.1" y2="1676" stroke="#3c3c40" stroke-width="4.5"/>
<line x1="1484.4" y1="1695.7" x2="1518.3" y2="1676" stroke="#3c3c40" stroke-width="4.5"/>
<line x1="1484.4" y1="1695.7" x2="1452.1" y2="1714.6" stroke="#3c3c40" stroke-width="4.5"/>
<line x1="1484.4" y1="1695.7" x2="1518.3" y2="1712.6" stroke="#3c3c40" stroke-width="4.5"/>
<line x1="1484.4" y1="1695.7" x2="1484.4" y2="1733.5" stroke="#3c3c40" stroke-width="4.5"/>
<line x1="1550.6" y1="1695.7" x2="1550.6" y2="1656.3" stroke="#3c3c40" stroke-width="4.5"/>
<line x1="1550.6" y1="1695.7" x2="1518.3" y2="1676" stroke="#3c3c40" stroke-width="4.5"/>
<line x1="1550.6" y1="1695.7" x2="1585" y2="1676" stroke="#3c3c40" stroke-width="4.5"/>
<line x1="1550.6" y1="1695.7" x2="1518.3" y2="1712.6" stroke="#3c3c40" stroke-width="4.5"/>
<line x1="1550.6" y1="1695.7" x2="1585" y2="1712.6" stroke="#3c3c40" stroke-width="4.5"/>
<line x1="1550.6" y1="1695.7" x2="1550.6" y2="1733.5" stroke="#3c3c40" stroke-width="4.5"/>
<line x1="1518.3" y1="1752.1" x2="1518.3" y2="1712.6" stroke="#3c3c40" stroke-width="4.5"/>
<line x1="1518.3" y1="1752.1" x2="1484.4" y2="1733.5" stroke="#3c3c40" stroke-width="4.5"/>
<line x1="1518.3" y1="1752.1" x2="1550.6" y2="1733.5" stroke="#3c3c40" stroke-width="4.5"/>
<line x1="1518.3" y1="1752.1" x2="1484.4" y2="1772.6" stroke="#3c3c40" stroke-width="4.5"/>
<line x1="1518.3" y1="1752.1" x2="1550.6" y2="1771.8" stroke="#3c3c40" stroke-width="4.5"/>
<line x1="1518.3" y1="1752.1" x2="1518.3" y2="1789.5" stroke="#3c3c40" stroke-width="4.5"/>
<line x1="1585" y1="1752.1" x2="1585" y2="1712.6" stroke="#3c3c40" stroke-width="4.5"/>
<line x1="1585" y1="1752.1" x2="1550.6" y2="1733.5" stroke="#3c3c40" stroke-width="4.5"/>
<line x1="1585" y1="1752.1" x2="1617.7" y2="1732.4" stroke="#3c3c40" stroke-width="4.5"/>
<line x1="1585" y1="1752.1" x2="1550.6" y2="1771.8" stroke="#3c3c40" stroke-width="4.5"/>
<line x1="1585" y1="1752.1" x2="1617.7" y2="1771.8" stroke="#3c3c40" stroke-width="4.5"/>
<line x1="1585" y1="1752.1" x2="1585" y2="1789.5" stroke="#3c3c40" stroke-width="4.5"/>
<circle cx="1484.4" cy="1656.3" r="12.6" fill="url(#gK)"/>
<circle cx="1550.6" cy="1656.3" r="12.6" fill="url(#gK)"/>
<circle cx="1452.1" cy="1676" r="12.6" fill="url(#gK)"/>
<circle cx="1518.3" cy="1676" r="12.6" fill="url(#gK)"/>
<circle cx="1585" cy="1676" r="12.6" fill="url(#gK)"/>
<circle cx="1484.4" cy="1695.7" r="12.6" fill="url(#gK)"/>
<circle cx="1550.6" cy="1695.7" r="12.6" fill="url(#gK)"/>
<circle cx="1452.1" cy="1714.6" r="12.6" fill="url(#gK)"/>
<circle cx="1518.3" cy="1712.6" r="12.6" fill="url(#gK)"/>
<circle cx="1585" cy="1712.6" r="12.6" fill="url(#gK)"/>
<circle cx="1484.4" cy="1733.5" r="12.6" fill="url(#gK)"/>
<circle cx="1550.6" cy="1733.5" r="12.6" fill="url(#gK)"/>
<circle cx="1617.7" cy="1732.4" r="12.6" fill="url(#gK)"/>
<circle cx="1518.3" cy="1752.1" r="12.6" fill="url(#gK)"/>
<circle cx="1585" cy="1752.1" r="12.6" fill="url(#gK)"/>
<circle cx="1484.4" cy="1772.6" r="12.6" fill="url(#gK)"/>
<circle cx="1550.6" cy="1771.8" r="12.6" fill="url(#gK)"/>
<circle cx="1617.7" cy="1771.8" r="12.6" fill="url(#gK)"/>
<circle cx="1518.3" cy="1789.5" r="12.6" fill="url(#gK)"/>
<circle cx="1585" cy="1789.5" r="12.6" fill="url(#gK)"/>
<line x1="843.3" y1="2101.1" x2="870.9" y2="2101.1" stroke="#b0b4c8" stroke-width="1.2"/>
<line x1="870.9" y1="2079.4" x2="898.5" y2="2063.6" stroke="#c0c4d0" stroke-width="1"/>
<line x1="918.2" y1="2099.1" x2="941.9" y2="2099.1" stroke="#b0b4c8" stroke-width="1.2"/>
<line x1="941.9" y1="2099.1" x2="1018.8" y2="2059.7" stroke="#c0c4d0" stroke-width="1"/>
<line x1="989.2" y1="2059.7" x2="1018.8" y2="2059.7" stroke="#c0c4d0" stroke-width="1"/>
<circle cx="957.7" cy="2067.5" r="9" fill="url(#gL)"/>
<circle cx="851.2" cy="2085.3" r="8" fill="url(#gO)"/>
<circle cx="867" cy="2094.4" r="10" fill="url(#gO)"/>
<circle cx="849.2" cy="2094" r="5" fill="url(#gW)"/>
<circle cx="882.7" cy="2080.2" r="5" fill="url(#gW)"/>
<circle cx="890.6" cy="2066.4" r="5" fill="url(#gW)"/>
<circle cx="924.1" cy="2090.4" r="8" fill="url(#gO)"/>
<circle cx="949.8" cy="2073.5" r="12" fill="url(#gO)"/>
<circle cx="918.2" cy="2083.3" r="5" fill="url(#gW)"/>
<circle cx="936" cy="2094" r="5" fill="url(#gW)"/>
<circle cx="967.5" cy="2079.4" r="5" fill="url(#gW)"/>
<circle cx="928.1" cy="2082.5" r="4.5" fill="url(#gW)"/>
<circle cx="989.2" cy="2066.4" r="10" fill="url(#gO)"/>
<circle cx="1007" cy="2067.5" r="5" fill="url(#gW)"/>
<line x1="1163.4" y1="2030.1" x2="1163.4" y2="2071.5" stroke="#9098b0" stroke-width="1.3"/>
<line x1="1170.1" y1="2020.2" x2="1245" y2="2000.5" stroke="#b0b4c8" stroke-width="1.2" stroke-dasharray="12 16"/>
<line x1="1284.5" y1="1995.8" x2="1286.5" y2="2126.7" stroke="#c0c4d0" stroke-width="1.2" stroke-dasharray="10 50"/>
<line x1="1164.2" y1="2174" x2="1252.9" y2="2150.3" stroke="#b0b4c8" stroke-width="1.2" stroke-dasharray="12 16"/>
<circle cx="1284.5" cy="1995.8" r="10.6" fill="url(#gL)"/>
<circle cx="1163.4" cy="2030.1" r="10.6" fill="url(#gL)"/>
<circle cx="1224.1" cy="2089.2" r="10.6" fill="url(#gL)"/>
<circle cx="1193" cy="2006.4" r="10.6" fill="url(#gO)"/>
<circle cx="1198.5" cy="2014.3" r="10.6" fill="url(#gO)"/>
<circle cx="1245" cy="1996.6" r="10.6" fill="url(#gO)"/>
<circle cx="1256.1" cy="1996.6" r="10.6" fill="url(#gO)"/>
<circle cx="1218.2" cy="2036" r="10.6" fill="url(#gO)"/>
<circle cx="1227.3" cy="2031.3" r="10.6" fill="url(#gO)"/>
<circle cx="1270.7" cy="2026.1" r="10.6" fill="url(#gO)"/>
<circle cx="1276.6" cy="2030.1" r="10.6" fill="url(#gO)"/>
<circle cx="1289.6" cy="2038" r="10.6" fill="url(#gO)"/>
<circle cx="1168.2" cy="2074.6" r="10.6" fill="url(#gO)"/>
<circle cx="1254.9" cy="2071.5" r="10.6" fill="url(#gO)"/>
<circle cx="1197.7" cy="2093.2" r="10.6" fill="url(#gO)"/>
<circle cx="1281.7" cy="2105" r="10.6" fill="url(#gO)"/>
<circle cx="1278.6" cy="2110.9" r="10.6" fill="url(#gO)"/>
<circle cx="1228.5" cy="2114.1" r="10.6" fill="url(#gO)"/>
<circle cx="1223.4" cy="2126.7" r="10.6" fill="url(#gO)"/>
<circle cx="1157.5" cy="2146.4" r="10.6" fill="url(#gO)"/>
<circle cx="1163" cy="2139.3" r="10.6" fill="url(#gO)"/>
<circle cx="1245.8" cy="2150.3" r="10.6" fill="url(#gO)"/>
<circle cx="1256.1" cy="2149.6" r="10.6" fill="url(#gO)"/>
<circle cx="1193" cy="2161.4" r="10.6" fill="url(#gO)"/>
<circle cx="1196.9" cy="2169.3" r="10.6" fill="url(#gO)"/>
<circle cx="1256.1" cy="2081.3" r="5.5" fill="url(#gW)"/>
<line x1="1493.5" y1="2168.1" x2="1574.3" y2="2168.1" stroke="#d8d8dc" stroke-width="2"/>
<line x1="1457.2" y1="1994.6" x2="1493.5" y2="1994.6" stroke="#8c92c4" stroke-width="4.5"/>
<line x1="1457.2" y1="1994.6" x2="1456" y2="2039.9" stroke="#8c92c4" stroke-width="4.5"/>
<line x1="1613.7" y1="1994.6" x2="1574.3" y2="1994.6" stroke="#8c92c4" stroke-width="4.5"/>
<line x1="1613.7" y1="1994.6" x2="1613.7" y2="2039.9" stroke="#8c92c4" stroke-width="4.5"/>
<line x1="1457.2" y1="2166.1" x2="1493.5" y2="2166.1" stroke="#8c92c4" stroke-width="4.5"/>
<line x1="1457.2" y1="2166.1" x2="1456" y2="2118" stroke="#8c92c4" stroke-width="4.5"/>
<line x1="1613.7" y1="2166.1" x2="1574.3" y2="2166.1" stroke="#8c92c4" stroke-width="4.5"/>
<line x1="1613.7" y1="2166.1" x2="1613.7" y2="2118" stroke="#8c92c4" stroke-width="4.5"/>
<line x1="1534.9" y1="2079.4" x2="1496.6" y2="2079.4" stroke="#8c92c4" stroke-width="4.5"/>
<line x1="1534.9" y1="2079.4" x2="1573.1" y2="2079.4" stroke="#8c92c4" stroke-width="4.5"/>
<line x1="1534.9" y1="2079.4" x2="1534.9" y2="2032.1" stroke="#8c92c4" stroke-width="4.5"/>
<line x1="1534.9" y1="2079.4" x2="1534.9" y2="2126.7" stroke="#8c92c4" stroke-width="4.5"/>
<line x1="1493.5" y1="1994.6" x2="1534.9" y2="2032.1" stroke="#a05c14" stroke-width="4.2"/>
<line x1="1534.9" y1="2032.1" x2="1574.3" y2="1994.6" stroke="#a05c14" stroke-width="4.2"/>
<line x1="1493.5" y1="1994.6" x2="1456" y2="2039.9" stroke="#a05c14" stroke-width="4.2"/>
<line x1="1574.3" y1="1994.6" x2="1613.7" y2="2039.9" stroke="#a05c14" stroke-width="4.2"/>
<line x1="1456" y1="2039.9" x2="1496.6" y2="2079.4" stroke="#a05c14" stroke-width="4.2"/>
<line x1="1534.9" y1="2032.1" x2="1496.6" y2="2079.4" stroke="#a05c14" stroke-width="4.2"/>
<line x1="1534.9" y1="2032.1" x2="1573.1" y2="2079.4" stroke="#a05c14" stroke-width="4.2"/>
<line x1="1613.7" y1="2039.9" x2="1573.1" y2="2079.4" stroke="#a05c14" stroke-width="4.2"/>
<line x1="1496.6" y1="2079.4" x2="1456" y2="2118" stroke="#a05c14" stroke-width="4.2"/>
<line x1="1496.6" y1="2079.4" x2="1534.9" y2="2126.7" stroke="#a05c14" stroke-width="4.2"/>
<line x1="1573.1" y1="2079.4" x2="1534.9" y2="2126.7" stroke="#a05c14" stroke-width="4.2"/>
<line x1="1573.1" y1="2079.4" x2="1613.7" y2="2118" stroke="#a05c14" stroke-width="4.2"/>
<line x1="1456" y1="2118" x2="1493.5" y2="2166.1" stroke="#a05c14" stroke-width="4.2"/>
<line x1="1534.9" y1="2126.7" x2="1493.5" y2="2166.1" stroke="#a05c14" stroke-width="4.2"/>
<line x1="1534.9" y1="2126.7" x2="1574.3" y2="2166.1" stroke="#a05c14" stroke-width="4.2"/>
<line x1="1613.7" y1="2118" x2="1574.3" y2="2166.1" stroke="#a05c14" stroke-width="4.2"/>
<line x1="1456" y1="2039.9" x2="1456" y2="2118" stroke="#a8590c" stroke-width="0"/>
<circle cx="1457.2" cy="1994.6" r="14" fill="url(#gL)"/>
<circle cx="1613.7" cy="1994.6" r="14" fill="url(#gL)"/>
<circle cx="1457.2" cy="2166.1" r="14" fill="url(#gL)"/>
<circle cx="1613.7" cy="2166.1" r="14" fill="url(#gL)"/>
<circle cx="1493.5" cy="1994.6" r="13.5" fill="url(#gO)"/>
<circle cx="1574.3" cy="1994.6" r="13.5" fill="url(#gO)"/>
<circle cx="1456" cy="2039.9" r="15" fill="url(#gO)"/>
<circle cx="1534.9" cy="2032.1" r="15" fill="url(#gO)"/>
<circle cx="1613.7" cy="2039.9" r="15" fill="url(#gO)"/>
<circle cx="1496.6" cy="2079.4" r="13.5" fill="url(#gO)"/>
<circle cx="1573.1" cy="2079.4" r="13.5" fill="url(#gO)"/>
<circle cx="1456" cy="2118" r="15" fill="url(#gO)"/>
<circle cx="1534.9" cy="2126.7" r="15" fill="url(#gO)"/>
<circle cx="1613.7" cy="2118" r="15" fill="url(#gO)"/>
<circle cx="1493.5" cy="2166.1" r="13.5" fill="url(#gO)"/>
<circle cx="1574.3" cy="2166.1" r="13.5" fill="url(#gO)"/>
<circle cx="1534.9" cy="2079.4" r="13.5" fill="url(#gL)"/>
<!-- panel f -->
<text x="2166.2" y="47.9" font-size="50" textLength="60.3" lengthAdjust="spacingAndGlyphs">(f)</text>
<text x="2270.7" y="47.9" font-size="50" textLength="122.3" lengthAdjust="spacingAndGlyphs">TaCr</text>
<text x="2393" y="55.9" font-size="31.5" textLength="20" lengthAdjust="spacingAndGlyphs" stroke-width="0.7">2</text>
<text x="2413.1" y="47.9" font-size="50" textLength="43.7" lengthAdjust="spacingAndGlyphs">O</text>
<text x="2456.8" y="55.9" font-size="31.5" textLength="20" lengthAdjust="spacingAndGlyphs" stroke-width="0.7">6</text>
<text x="2499.2" y="47.9" font-size="50" textLength="15" lengthAdjust="spacingAndGlyphs">(</text>
<text x="2518.9" y="47.9" font-size="50" textLength="37.8" lengthAdjust="spacingAndGlyphs" font-style="italic">P</text>
<text x="2556.7" y="47.9" font-size="50" textLength="31.3" lengthAdjust="spacingAndGlyphs">4</text>
<text x="2588" y="55.9" font-size="31.5" textLength="20.3" lengthAdjust="spacingAndGlyphs" stroke-width="0.7">2</text>
<text x="2608.3" y="47.9" font-size="50" textLength="18.2" lengthAdjust="spacingAndGlyphs">/</text>
<text x="2626.5" y="47.9" font-size="50" textLength="128.8" lengthAdjust="spacingAndGlyphs" font-style="italic" letter-spacing="4">mnm</text>
<text x="2759.2" y="47.9" font-size="50" textLength="17.9" lengthAdjust="spacingAndGlyphs">)</text>
<text x="2798.3" y="47.9" font-size="50" textLength="81.2" lengthAdjust="spacingAndGlyphs">221</text>
<text x="2902.5" y="47.9" font-size="50" textLength="103.4" lengthAdjust="spacingAndGlyphs">GPa</text>
<rect x="2502.6" y="204.9" width="275" height="276.3" fill="none" stroke="#c4c4c8" stroke-width="3"/>
<polygon points="2417.5,120.7 2555.9,150.8 2447.2,259.5" fill="#2C4EC8" stroke="#2C4EC8" stroke-width="1"/>
<polygon points="2555.9,150.8 2586,289.2 2447.2,259.5" fill="#22379A" stroke="#22379A" stroke-width="1"/>
<polygon points="2417.5,120.7 2555.9,150.8 2586,289.2 2447.2,259.5" fill="none" stroke="#7ab0f0" stroke-width="1.5" opacity="0.6"/>
<polygon points="2693.4,120.7 2833.1,150.8 2723.5,259.5" fill="#4A8CEA" stroke="#4A8CEA" stroke-width="1"/>
<polygon points="2833.1,150.8 2861.9,289.2 2723.5,259.5" fill="#3A6CB4" stroke="#3A6CB4" stroke-width="1"/>
<polygon points="2693.4,120.7 2833.1,150.8 2861.9,289.2 2723.5,259.5" fill="none" stroke="#7ab0f0" stroke-width="1.5" opacity="0.6"/>
<polygon points="2417.5,397 2555.9,427.2 2447.2,536.7" fill="#4A8CEA" stroke="#4A8CEA" stroke-width="1"/>
<polygon points="2555.9,427.2 2586,565.6 2447.2,536.7" fill="#3A6CB4" stroke="#3A6CB4" stroke-width="1"/>
<polygon points="2417.5,397 2555.9,427.2 2586,565.6 2447.2,536.7" fill="none" stroke="#7ab0f0" stroke-width="1.5" opacity="0.6"/>
<polygon points="2693.4,397 2833.1,427.2 2723.5,536.7" fill="#3C6CDC" stroke="#3C6CDC" stroke-width="1"/>
<polygon points="2833.1,427.2 2861.9,565.6 2723.5,536.7" fill="#2A4EA2" stroke="#2A4EA2" stroke-width="1"/>
<polygon points="2693.4,397 2833.1,427.2 2861.9,565.6 2723.5,536.7" fill="none" stroke="#7ab0f0" stroke-width="1.5" opacity="0.6"/>
<polygon points="2586,289.2 2723.5,259.5 2693.4,397 2555.9,427.2" fill="#0A0A8E"/>
<line x1="2502.6" y1="204.9" x2="2460.1" y2="162.8" stroke="#3E9CEC" stroke-width="10.5"/>
<line x1="2460.1" y1="162.8" x2="2417.5" y2="120.7" stroke="#B0426E" stroke-width="10.5"/>
<line x1="2502.6" y1="204.9" x2="2544.3" y2="247.1" stroke="#3E9CEC" stroke-width="10.5"/>
<line x1="2544.3" y1="247.1" x2="2586" y2="289.2" stroke="#B0426E" stroke-width="10.5"/>
<line x1="2777.7" y1="204.9" x2="2735.5" y2="162.8" stroke="#3E9CEC" stroke-width="10.5"/>
<line x1="2735.5" y1="162.8" x2="2693.4" y2="120.7" stroke="#B0426E" stroke-width="10.5"/>
<line x1="2777.7" y1="204.9" x2="2819.8" y2="247.1" stroke="#3E9CEC" stroke-width="10.5"/>
<line x1="2819.8" y1="247.1" x2="2861.9" y2="289.2" stroke="#B0426E" stroke-width="10.5"/>
<line x1="2502.6" y1="481.3" x2="2460.1" y2="439.1" stroke="#3E9CEC" stroke-width="10.5"/>
<line x1="2460.1" y1="439.1" x2="2417.5" y2="397" stroke="#B0426E" stroke-width="10.5"/>
<line x1="2502.6" y1="481.3" x2="2544.3" y2="523.4" stroke="#3E9CEC" stroke-width="10.5"/>
<line x1="2544.3" y1="523.4" x2="2586" y2="565.6" stroke="#B0426E" stroke-width="10.5"/>
<line x1="2777.7" y1="481.3" x2="2735.5" y2="439.1" stroke="#3E9CEC" stroke-width="10.5"/>
<line x1="2735.5" y1="439.1" x2="2693.4" y2="397" stroke="#B0426E" stroke-width="10.5"/>
<line x1="2777.7" y1="481.3" x2="2819.8" y2="523.4" stroke="#3E9CEC" stroke-width="10.5"/>
<line x1="2819.8" y1="523.4" x2="2861.9" y2="565.6" stroke="#B0426E" stroke-width="10.5"/>
<rect x="2502.6" y="204.9" width="275" height="276.3" fill="none" stroke="#9098b8" stroke-width="2" opacity="0.35"/>
<line x1="2615.8" y1="319.2" x2="2586" y2="289.2" stroke="#f01414" stroke-width="10"/>
<line x1="2664.1" y1="367.7" x2="2693.4" y2="397" stroke="#f01414" stroke-width="10"/>
<line x1="2686" y1="297.4" x2="2723.5" y2="259.5" stroke="#f01414" stroke-width="9"/>
<line x1="2648.5" y1="335.3" x2="2686.9" y2="296.6" stroke="#b8b8f0" stroke-width="1.6"/>
<line x1="2593.8" y1="389.6" x2="2555.9" y2="427.2" stroke="#f01414" stroke-width="9"/>
<line x1="2631.7" y1="352.1" x2="2593" y2="390.5" stroke="#b8b8f0" stroke-width="1.6"/>
<circle cx="2502.6" cy="204.9" r="29.5" fill="url(#fC)"/>
<circle cx="2777.7" cy="204.9" r="29.5" fill="url(#fC)"/>
<circle cx="2502.6" cy="481.3" r="29.5" fill="url(#fC)"/>
<circle cx="2777.7" cy="481.3" r="29.5" fill="url(#fC)"/>
<circle cx="2640.2" cy="343.8" r="29.5" fill="url(#fT)"/>
<line x1="2468.9" y1="237.8" x2="2534.1" y2="172.6" stroke="#3488d8" stroke-width="6.5"/>
<line x1="2468.9" y1="237.8" x2="2534.1" y2="172.6" stroke="#44a2f2" stroke-width="4"/>
<line x1="2447.2" y1="259.5" x2="2473.3" y2="233.4" stroke="#a8507c" stroke-width="6"/>
<line x1="2529.8" y1="176.9" x2="2555.9" y2="150.8" stroke="#a8507c" stroke-width="6"/>
<line x1="2745.5" y1="237.8" x2="2811.2" y2="172.6" stroke="#3488d8" stroke-width="6.5"/>
<line x1="2745.5" y1="237.8" x2="2811.2" y2="172.6" stroke="#44a2f2" stroke-width="4"/>
<line x1="2723.5" y1="259.5" x2="2749.8" y2="233.4" stroke="#a8507c" stroke-width="6"/>
<line x1="2806.8" y1="176.9" x2="2833.1" y2="150.8" stroke="#a8507c" stroke-width="6"/>
<line x1="2468.9" y1="514.8" x2="2534.1" y2="449.1" stroke="#3488d8" stroke-width="6.5"/>
<line x1="2468.9" y1="514.8" x2="2534.1" y2="449.1" stroke="#44a2f2" stroke-width="4"/>
<line x1="2447.2" y1="536.7" x2="2473.3" y2="510.4" stroke="#a8507c" stroke-width="6"/>
<line x1="2529.8" y1="453.5" x2="2555.9" y2="427.2" stroke="#a8507c" stroke-width="6"/>
<line x1="2745.5" y1="514.8" x2="2811.2" y2="449.1" stroke="#3488d8" stroke-width="6.5"/>
<line x1="2745.5" y1="514.8" x2="2811.2" y2="449.1" stroke="#44a2f2" stroke-width="4"/>
<line x1="2723.5" y1="536.7" x2="2749.8" y2="510.4" stroke="#a8507c" stroke-width="6"/>
<line x1="2806.8" y1="453.5" x2="2833.1" y2="427.2" stroke="#a8507c" stroke-width="6"/>
<circle cx="2417.5" cy="120.7" r="29.7" fill="url(#fR)"/>
<circle cx="2408.5" cy="111.7" r="1.3" fill="#ffd0d0"/>
<circle cx="2555.9" cy="150.8" r="29.7" fill="url(#fR)"/>
<circle cx="2546.9" cy="141.8" r="1.3" fill="#ffd0d0"/>
<circle cx="2586" cy="289.2" r="29.7" fill="url(#fR)"/>
<circle cx="2577" cy="280.2" r="1.3" fill="#ffd0d0"/>
<circle cx="2447.2" cy="259.5" r="29.7" fill="url(#fR)"/>
<circle cx="2438.2" cy="250.5" r="1.3" fill="#ffd0d0"/>
<circle cx="2693.4" cy="120.7" r="29.7" fill="url(#fR)"/>
<circle cx="2684.4" cy="111.7" r="1.3" fill="#ffd0d0"/>
<circle cx="2833.1" cy="150.8" r="29.7" fill="url(#fR)"/>
<circle cx="2824.1" cy="141.8" r="1.3" fill="#ffd0d0"/>
<circle cx="2861.9" cy="289.2" r="29.7" fill="url(#fR)"/>
<circle cx="2852.9" cy="280.2" r="1.3" fill="#ffd0d0"/>
<circle cx="2723.5" cy="259.5" r="29.7" fill="url(#fR)"/>
<circle cx="2714.5" cy="250.5" r="1.3" fill="#ffd0d0"/>
<circle cx="2417.5" cy="397" r="29.7" fill="url(#fR)"/>
<circle cx="2408.5" cy="388" r="1.3" fill="#ffd0d0"/>
<circle cx="2555.9" cy="427.2" r="29.7" fill="url(#fR)"/>
<circle cx="2546.9" cy="418.2" r="1.3" fill="#ffd0d0"/>
<circle cx="2586" cy="565.6" r="29.7" fill="url(#fR)"/>
<circle cx="2577" cy="556.6" r="1.3" fill="#ffd0d0"/>
<circle cx="2447.2" cy="536.7" r="29.7" fill="url(#fR)"/>
<circle cx="2438.2" cy="527.7" r="1.3" fill="#ffd0d0"/>
<circle cx="2693.4" cy="397" r="29.7" fill="url(#fR)"/>
<circle cx="2684.4" cy="388" r="1.3" fill="#ffd0d0"/>
<circle cx="2833.1" cy="427.2" r="29.7" fill="url(#fR)"/>
<circle cx="2824.1" cy="418.2" r="1.3" fill="#ffd0d0"/>
<circle cx="2861.9" cy="565.6" r="29.7" fill="url(#fR)"/>
<circle cx="2852.9" cy="556.6" r="1.3" fill="#ffd0d0"/>
<circle cx="2723.5" cy="536.7" r="29.7" fill="url(#fR)"/>
<circle cx="2714.5" cy="527.7" r="1.3" fill="#ffd0d0"/>
<rect x="2287.4" y="786.3" width="704.8" height="173.9" fill="#8486D2"/>
<rect x="2549.1" y="795.2" width="181" height="155.3" fill="#A8D4FA"/>
<rect x="2549.1" y="795.2" width="90.9" height="155.3" fill="#BCE0FC"/>
<rect x="2287.4" y="910.5" width="261.7" height="49.7" fill="#7476C4" opacity="0.6"/>
<rect x="2730.1" y="910.5" width="262.2" height="49.7" fill="#7476C4" opacity="0.6"/>
<line x1="2288.5" y1="807.2" x2="2357.3" y2="937.1" stroke="#4A4CC0" stroke-width="2" opacity="0.55"/>
<line x1="2288.5" y1="937.1" x2="2357.3" y2="807.2" stroke="#4A4CC0" stroke-width="2" opacity="0.55"/>
<line x1="2447.3" y1="807.2" x2="2378.5" y2="937.1" stroke="#4A4CC0" stroke-width="2" opacity="0.55"/>
<line x1="2447.3" y1="937.1" x2="2378.5" y2="807.2" stroke="#4A4CC0" stroke-width="2" opacity="0.55"/>
<line x1="2469" y1="807.2" x2="2537.8" y2="937.1" stroke="#4A4CC0" stroke-width="2" opacity="0.55"/>
<line x1="2469" y1="937.1" x2="2537.8" y2="807.2" stroke="#4A4CC0" stroke-width="2" opacity="0.55"/>
<line x1="2810.1" y1="807.2" x2="2741.4" y2="937.1" stroke="#4A4CC0" stroke-width="2" opacity="0.55"/>
<line x1="2810.1" y1="937.1" x2="2741.4" y2="807.2" stroke="#4A4CC0" stroke-width="2" opacity="0.55"/>
<line x1="2831.9" y1="807.2" x2="2900.6" y2="937.1" stroke="#4A4CC0" stroke-width="2" opacity="0.55"/>
<line x1="2831.9" y1="937.1" x2="2900.6" y2="807.2" stroke="#4A4CC0" stroke-width="2" opacity="0.55"/>
<line x1="2991.1" y1="807.2" x2="2922.4" y2="937.1" stroke="#4A4CC0" stroke-width="2" opacity="0.55"/>
<line x1="2991.1" y1="937.1" x2="2922.4" y2="807.2" stroke="#4A4CC0" stroke-width="2" opacity="0.55"/>
<line x1="2629.2" y1="807.2" x2="2560.4" y2="937.1" stroke="#7CC0F8" stroke-width="2" opacity="0.7"/>
<line x1="2629.2" y1="937.1" x2="2560.4" y2="807.2" stroke="#7CC0F8" stroke-width="2" opacity="0.7"/>
<line x1="2650.9" y1="807.2" x2="2719.7" y2="937.1" stroke="#7CC0F8" stroke-width="2" opacity="0.7"/>
<line x1="2650.9" y1="937.1" x2="2719.7" y2="807.2" stroke="#7CC0F8" stroke-width="2" opacity="0.7"/>
<polygon points="2277.6,679 2345.5,655.4 2389.9,655.4 2458.2,679 2458.2,788.5 2402.3,807.2 2333.1,807.2 2277.6,788.5" fill="#72B2EE"/>
<polygon points="2821,679 2889.8,655.4 2934.1,655.4 3002,679 3002,788.5 2946.5,807.2 2877.3,807.2 2821,788.5" fill="#72B2EE"/>
<polygon points="2458.2,679 2526.9,655.4 2571.3,655.4 2640,679 2707.9,655.4 2752.3,655.4 2821,679 2821,788.5 2764.7,807.2 2695.5,807.2 2640,788.5 2583.7,807.2 2514.5,807.2 2458.2,788.5" fill="#3C3EB6"/>
<polygon points="2277.6,957.1 2345.5,932.7 2389.9,932.7 2458.2,957.1 2458.2,1066.6 2402.3,1085.7 2333.1,1085.7 2277.6,1066.6" fill="#72B2EE"/>
<polygon points="2821,957.1 2889.8,932.7 2934.1,932.7 3002,957.1 3002,1066.6 2946.5,1085.7 2877.3,1085.7 2821,1066.6" fill="#72B2EE"/>
<polygon points="2458.2,957.1 2526.9,932.7 2571.3,932.7 2640,957.1 2707.9,932.7 2752.3,932.7 2821,957.1 2821,1066.6 2764.7,1085.7 2695.5,1085.7 2640,1066.6 2583.7,1085.7 2514.5,1085.7 2458.2,1066.6" fill="#3C3EB6"/>
<polygon points="2277.6,679 2314.4,663.7 2314.4,798.8 2277.6,788.5" fill="#5A96D0" opacity="0.8"/>
<polygon points="2421.3,663.7 2458.2,679 2458.2,788.5 2421.3,798.8" fill="#5A96D0" opacity="0.8"/>
<polygon points="2314.4,741.9 2421.3,741.9 2421.3,803.6 2314.4,803.6" fill="#5E9EDC" opacity="0.35"/>
<polygon points="2345.7,656.3 2390.1,656.3 2444.9,687.8 2444.9,784.1 2398.9,805.8 2336.8,805.8 2290.9,784.1 2290.9,687.8" fill="none" stroke="#9CD2FF" stroke-width="1.6" opacity="0.8"/>
<line x1="2290.9" y1="687.8" x2="2398.9" y2="805.8" stroke="#9CD2FF" stroke-width="1.4" opacity="0.6"/>
<line x1="2444.9" y1="687.8" x2="2336.8" y2="805.8" stroke="#9CD2FF" stroke-width="1.4" opacity="0.6"/>
<line x1="2290.9" y1="784.1" x2="2390.1" y2="656.3" stroke="#9CD2FF" stroke-width="1.4" opacity="0.6"/>
<line x1="2444.9" y1="784.1" x2="2345.7" y2="656.3" stroke="#9CD2FF" stroke-width="1.4" opacity="0.6"/>
<polygon points="2821,679 2857.8,663.7 2857.8,798.8 2821,788.5" fill="#5A96D0" opacity="0.8"/>
<polygon points="2965.2,663.7 3002,679 3002,788.5 2965.2,798.8" fill="#5A96D0" opacity="0.8"/>
<polygon points="2857.8,741.9 2965.2,741.9 2965.2,803.6 2857.8,803.6" fill="#5E9EDC" opacity="0.35"/>
<polygon points="2889.3,656.3 2933.7,656.3 2988.7,687.8 2988.7,784.1 2942.5,805.8 2880.4,805.8 2834.3,784.1 2834.3,687.8" fill="none" stroke="#9CD2FF" stroke-width="1.6" opacity="0.8"/>
<line x1="2834.3" y1="687.8" x2="2942.5" y2="805.8" stroke="#9CD2FF" stroke-width="1.4" opacity="0.6"/>
<line x1="2988.7" y1="687.8" x2="2880.4" y2="805.8" stroke="#9CD2FF" stroke-width="1.4" opacity="0.6"/>
<line x1="2834.3" y1="784.1" x2="2933.7" y2="656.3" stroke="#9CD2FF" stroke-width="1.4" opacity="0.6"/>
<line x1="2988.7" y1="784.1" x2="2889.3" y2="656.3" stroke="#9CD2FF" stroke-width="1.4" opacity="0.6"/>
<polygon points="2458.2,679 2495,670.1 2495,797.4 2458.2,788.5" fill="#2E3096" opacity="0.7"/>
<polygon points="2605.9,670.1 2674.6,670.1 2674.6,797.4 2605.9,797.4" fill="#2E3096" opacity="0.7"/>
<polygon points="2784.2,670.1 2821,679 2821,788.5 2784.2,797.4" fill="#2E3096" opacity="0.7"/>
<polygon points="2495,741.9 2603.2,741.9 2603.2,796.1 2580.1,805.8 2518,805.8 2495,796.1" fill="#34369E" opacity="0.35"/>
<line x1="2473.7" y1="683.4" x2="2580.1" y2="805.8" stroke="#5658D0" stroke-width="1.6" opacity="0.6"/>
<line x1="2624.5" y1="683.4" x2="2518" y2="805.8" stroke="#5658D0" stroke-width="1.6" opacity="0.6"/>
<line x1="2473.7" y1="788.5" x2="2571.3" y2="656.3" stroke="#5658D0" stroke-width="1.6" opacity="0.6"/>
<line x1="2624.5" y1="788.5" x2="2526.9" y2="656.3" stroke="#5658D0" stroke-width="1.6" opacity="0.6"/>
<polygon points="2676,741.9 2784.2,741.9 2784.2,796.1 2761.1,805.8 2699,805.8 2676,796.1" fill="#34369E" opacity="0.35"/>
<line x1="2654.7" y1="683.4" x2="2761.1" y2="805.8" stroke="#5658D0" stroke-width="1.6" opacity="0.6"/>
<line x1="2805.5" y1="683.4" x2="2699" y2="805.8" stroke="#5658D0" stroke-width="1.6" opacity="0.6"/>
<line x1="2654.7" y1="788.5" x2="2752.3" y2="656.3" stroke="#5658D0" stroke-width="1.6" opacity="0.6"/>
<line x1="2805.5" y1="788.5" x2="2707.9" y2="656.3" stroke="#5658D0" stroke-width="1.6" opacity="0.6"/>
<polygon points="2277.6,957.1 2314.4,941.2 2314.4,1077.1 2277.6,1066.6" fill="#5A96D0" opacity="0.8"/>
<polygon points="2421.3,941.2 2458.2,957.1 2458.2,1066.6 2421.3,1077.1" fill="#5A96D0" opacity="0.8"/>
<polygon points="2314.4,1028.1 2421.3,1028.1 2421.3,1082.2 2314.4,1082.2" fill="#5E9EDC" opacity="0.35"/>
<polygon points="2345.7,933.6 2390.1,933.6 2444.9,966 2444.9,1062.2 2398.9,1084.4 2336.8,1084.4 2290.9,1062.2 2290.9,966" fill="none" stroke="#9CD2FF" stroke-width="1.6" opacity="0.8"/>
<line x1="2290.9" y1="966" x2="2398.9" y2="1084.4" stroke="#9CD2FF" stroke-width="1.4" opacity="0.6"/>
<line x1="2444.9" y1="966" x2="2336.8" y2="1084.4" stroke="#9CD2FF" stroke-width="1.4" opacity="0.6"/>
<line x1="2290.9" y1="1062.2" x2="2390.1" y2="933.6" stroke="#9CD2FF" stroke-width="1.4" opacity="0.6"/>
<line x1="2444.9" y1="1062.2" x2="2345.7" y2="933.6" stroke="#9CD2FF" stroke-width="1.4" opacity="0.6"/>
<polygon points="2821,957.1 2857.8,941.2 2857.8,1077.1 2821,1066.6" fill="#5A96D0" opacity="0.8"/>
<polygon points="2965.2,941.2 3002,957.1 3002,1066.6 2965.2,1077.1" fill="#5A96D0" opacity="0.8"/>
<polygon points="2857.8,1028.1 2965.2,1028.1 2965.2,1082.2 2857.8,1082.2" fill="#5E9EDC" opacity="0.35"/>
<polygon points="2889.3,933.6 2933.7,933.6 2988.7,966 2988.7,1062.2 2942.5,1084.4 2880.4,1084.4 2834.3,1062.2 2834.3,966" fill="none" stroke="#9CD2FF" stroke-width="1.6" opacity="0.8"/>
<line x1="2834.3" y1="966" x2="2942.5" y2="1084.4" stroke="#9CD2FF" stroke-width="1.4" opacity="0.6"/>
<line x1="2988.7" y1="966" x2="2880.4" y2="1084.4" stroke="#9CD2FF" stroke-width="1.4" opacity="0.6"/>
<line x1="2834.3" y1="1062.2" x2="2933.7" y2="933.6" stroke="#9CD2FF" stroke-width="1.4" opacity="0.6"/>
<line x1="2988.7" y1="1062.2" x2="2889.3" y2="933.6" stroke="#9CD2FF" stroke-width="1.4" opacity="0.6"/>
<polygon points="2458.2,957.1 2495,948.2 2495,1075.5 2458.2,1066.6" fill="#2E3096" opacity="0.7"/>
<polygon points="2605.9,948.2 2674.6,948.2 2674.6,1075.5 2605.9,1075.5" fill="#2E3096" opacity="0.7"/>
<polygon points="2784.2,948.2 2821,957.1 2821,1066.6 2784.2,1075.5" fill="#2E3096" opacity="0.7"/>
<polygon points="2495,1028.1 2603.2,1028.1 2603.2,1074.6 2580.1,1084.4 2518,1084.4 2495,1074.6" fill="#34369E" opacity="0.35"/>
<line x1="2473.7" y1="961.5" x2="2580.1" y2="1084.4" stroke="#5658D0" stroke-width="1.6" opacity="0.6"/>
<line x1="2624.5" y1="961.5" x2="2518" y2="1084.4" stroke="#5658D0" stroke-width="1.6" opacity="0.6"/>
<line x1="2473.7" y1="1066.6" x2="2571.3" y2="933.6" stroke="#5658D0" stroke-width="1.6" opacity="0.6"/>
<line x1="2624.5" y1="1066.6" x2="2526.9" y2="933.6" stroke="#5658D0" stroke-width="1.6" opacity="0.6"/>
<polygon points="2676,1028.1 2784.2,1028.1 2784.2,1074.6 2761.1,1084.4 2699,1084.4 2676,1074.6" fill="#34369E" opacity="0.35"/>
<line x1="2654.7" y1="961.5" x2="2761.1" y2="1084.4" stroke="#5658D0" stroke-width="1.6" opacity="0.6"/>
<line x1="2805.5" y1="961.5" x2="2699" y2="1084.4" stroke="#5658D0" stroke-width="1.6" opacity="0.6"/>
<line x1="2654.7" y1="1066.6" x2="2752.3" y2="933.6" stroke="#5658D0" stroke-width="1.6" opacity="0.6"/>
<line x1="2805.5" y1="1066.6" x2="2707.9" y2="933.6" stroke="#5658D0" stroke-width="1.6" opacity="0.6"/>
<line x1="2397.4" y1="734.4" x2="2698.1" y2="734.4" stroke="#30304C" stroke-width="1.5" opacity="0.45"/>
<line x1="2397.4" y1="1019.2" x2="2698.1" y2="1019.2" stroke="#30304C" stroke-width="1.5" opacity="0.45"/>
<line x1="2367.7" y1="848.4" x2="2367.7" y2="943.8" stroke="#30304C" stroke-width="1.5" opacity="0.45"/>
<line x1="2640" y1="657.7" x2="2640" y2="790.7" stroke="#30304C" stroke-width="1.5" opacity="0.45"/>
<line x1="2640" y1="954.9" x2="2640" y2="1083.5" stroke="#30304C" stroke-width="1.5" opacity="0.45"/>
<line x1="2911.9" y1="848.4" x2="2911.9" y2="943.8" stroke="#30304C" stroke-width="1.5" opacity="0.45"/>
<line x1="2277.6" y1="679" x2="2277.6" y2="1066.6" stroke="#30304C" stroke-width="1.5" opacity="0.45"/>
<line x1="3002" y1="679" x2="3002" y2="1066.6" stroke="#30304C" stroke-width="1.5" opacity="0.45"/>
<circle cx="2367.7" cy="646.6" r="28.8" fill="url(#fR)"/>
<circle cx="2367.7" cy="926" r="28.8" fill="url(#fR)"/>
<circle cx="2549.1" cy="646.6" r="28.8" fill="url(#fR)"/>
<circle cx="2549.1" cy="926" r="28.8" fill="url(#fR)"/>
<circle cx="2730.1" cy="646.6" r="28.8" fill="url(#fR)"/>
<circle cx="2730.1" cy="926" r="28.8" fill="url(#fR)"/>
<circle cx="2911.9" cy="646.6" r="28.8" fill="url(#fR)"/>
<circle cx="2911.9" cy="926" r="28.8" fill="url(#fR)"/>
<circle cx="2277.6" cy="788.5" r="28.8" fill="url(#fR)"/>
<circle cx="2277.6" cy="1065.8" r="28.8" fill="url(#fR)"/>
<circle cx="2458.2" cy="788.5" r="28.8" fill="url(#fR)"/>
<circle cx="2458.2" cy="1065.8" r="28.8" fill="url(#fR)"/>
<circle cx="2640" cy="788.5" r="28.8" fill="url(#fR)"/>
<circle cx="2640" cy="1065.8" r="28.8" fill="url(#fR)"/>
<circle cx="2821" cy="788.5" r="28.8" fill="url(#fR)"/>
<circle cx="2821" cy="1065.8" r="28.8" fill="url(#fR)"/>
<circle cx="3002" cy="788.5" r="28.8" fill="url(#fR)"/>
<circle cx="3002" cy="1065.8" r="28.8" fill="url(#fR)"/>
<polygon points="2277.6,679 2345.5,655.4 2389.9,655.4 2458.2,679 2458.2,788.5 2402.3,807.2 2333.1,807.2 2277.6,788.5" fill="#72B2EE" opacity="0.5"/>
<polygon points="2821,679 2889.8,655.4 2934.1,655.4 3002,679 3002,788.5 2946.5,807.2 2877.3,807.2 2821,788.5" fill="#72B2EE" opacity="0.5"/>
<polygon points="2458.2,679 2526.9,655.4 2571.3,655.4 2640,679 2707.9,655.4 2752.3,655.4 2821,679 2821,788.5 2764.7,807.2 2695.5,807.2 2640,788.5 2583.7,807.2 2514.5,807.2 2458.2,788.5" fill="#3C3EB6" opacity="0.5"/>
<polygon points="2277.6,957.1 2345.5,932.7 2389.9,932.7 2458.2,957.1 2458.2,1066.6 2402.3,1085.7 2333.1,1085.7 2277.6,1066.6" fill="#72B2EE" opacity="0.5"/>
<polygon points="2821,957.1 2889.8,932.7 2934.1,932.7 3002,957.1 3002,1066.6 2946.5,1085.7 2877.3,1085.7 2821,1066.6" fill="#72B2EE" opacity="0.5"/>
<polygon points="2458.2,957.1 2526.9,932.7 2571.3,932.7 2640,957.1 2707.9,932.7 2752.3,932.7 2821,957.1 2821,1066.6 2764.7,1085.7 2695.5,1085.7 2640,1066.6 2583.7,1085.7 2514.5,1085.7 2458.2,1066.6" fill="#3C3EB6" opacity="0.5"/>
<line x1="2367.7" y1="726.4" x2="2367.7" y2="686.5" stroke="#3E9CEC" stroke-width="9"/>
<line x1="2367.7" y1="686.5" x2="2367.7" y2="673.6" stroke="#B0284C" stroke-width="9"/>
<line x1="2367.7" y1="726.4" x2="2367.7" y2="772.3" stroke="#3E9CEC" stroke-width="9"/>
<line x1="2367.7" y1="772.3" x2="2367.7" y2="791.2" stroke="#B0284C" stroke-width="9"/>
<line x1="2367.7" y1="726.4" x2="2322.4" y2="702.7" stroke="#3E9CEC" stroke-width="9"/>
<line x1="2322.4" y1="702.7" x2="2301.1" y2="691.5" stroke="#B0284C" stroke-width="9"/>
<line x1="2367.7" y1="726.4" x2="2412.9" y2="702.7" stroke="#3E9CEC" stroke-width="9"/>
<line x1="2412.9" y1="702.7" x2="2434.3" y2="691.5" stroke="#B0284C" stroke-width="9"/>
<line x1="2367.7" y1="726.4" x2="2322.4" y2="757.5" stroke="#3E9CEC" stroke-width="9"/>
<line x1="2322.4" y1="757.5" x2="2299.4" y2="773.2" stroke="#B0284C" stroke-width="9"/>
<line x1="2367.7" y1="726.4" x2="2412.9" y2="757.5" stroke="#3E9CEC" stroke-width="9"/>
<line x1="2412.9" y1="757.5" x2="2435.9" y2="773.2" stroke="#B0284C" stroke-width="9"/>
<line x1="2911.9" y1="726.4" x2="2911.9" y2="686.5" stroke="#3E9CEC" stroke-width="9"/>
<line x1="2911.9" y1="686.5" x2="2911.9" y2="673.6" stroke="#B0284C" stroke-width="9"/>
<line x1="2911.9" y1="726.4" x2="2911.9" y2="772.3" stroke="#3E9CEC" stroke-width="9"/>
<line x1="2911.9" y1="772.3" x2="2911.9" y2="791.2" stroke="#B0284C" stroke-width="9"/>
<line x1="2911.9" y1="726.4" x2="2866.7" y2="702.7" stroke="#3E9CEC" stroke-width="9"/>
<line x1="2866.7" y1="702.7" x2="2845.4" y2="691.5" stroke="#B0284C" stroke-width="9"/>
<line x1="2911.9" y1="726.4" x2="2957.2" y2="702.7" stroke="#3E9CEC" stroke-width="9"/>
<line x1="2957.2" y1="702.7" x2="2978.5" y2="691.5" stroke="#B0284C" stroke-width="9"/>
<line x1="2911.9" y1="726.4" x2="2866.7" y2="757.5" stroke="#3E9CEC" stroke-width="9"/>
<line x1="2866.7" y1="757.5" x2="2843.7" y2="773.2" stroke="#B0284C" stroke-width="9"/>
<line x1="2911.9" y1="726.4" x2="2957.2" y2="757.5" stroke="#3E9CEC" stroke-width="9"/>
<line x1="2957.2" y1="757.5" x2="2980.2" y2="773.2" stroke="#B0284C" stroke-width="9"/>
<line x1="2549.1" y1="726.4" x2="2549.1" y2="686.5" stroke="#04048C" stroke-width="9"/>
<line x1="2549.1" y1="686.5" x2="2549.1" y2="673.6" stroke="#B0284C" stroke-width="9"/>
<line x1="2549.1" y1="726.4" x2="2549.1" y2="772.3" stroke="#04048C" stroke-width="9"/>
<line x1="2549.1" y1="772.3" x2="2549.1" y2="791.2" stroke="#B0284C" stroke-width="9"/>
<line x1="2549.1" y1="726.4" x2="2503.9" y2="702.7" stroke="#04048C" stroke-width="9"/>
<line x1="2503.9" y1="702.7" x2="2482.5" y2="691.5" stroke="#B0284C" stroke-width="9"/>
<line x1="2549.1" y1="726.4" x2="2594.3" y2="702.7" stroke="#04048C" stroke-width="9"/>
<line x1="2594.3" y1="702.7" x2="2615.7" y2="691.5" stroke="#B0284C" stroke-width="9"/>
<line x1="2549.1" y1="726.4" x2="2503.9" y2="757.5" stroke="#04048C" stroke-width="9"/>
<line x1="2503.9" y1="757.5" x2="2480.9" y2="773.2" stroke="#B0284C" stroke-width="9"/>
<line x1="2549.1" y1="726.4" x2="2594.3" y2="757.5" stroke="#04048C" stroke-width="9"/>
<line x1="2594.3" y1="757.5" x2="2617.3" y2="773.2" stroke="#B0284C" stroke-width="9"/>
<line x1="2730.1" y1="726.4" x2="2730.1" y2="686.5" stroke="#04048C" stroke-width="9"/>
<line x1="2730.1" y1="686.5" x2="2730.1" y2="673.6" stroke="#B0284C" stroke-width="9"/>
<line x1="2730.1" y1="726.4" x2="2730.1" y2="772.3" stroke="#04048C" stroke-width="9"/>
<line x1="2730.1" y1="772.3" x2="2730.1" y2="791.2" stroke="#B0284C" stroke-width="9"/>
<line x1="2730.1" y1="726.4" x2="2684.8" y2="702.7" stroke="#04048C" stroke-width="9"/>
<line x1="2684.8" y1="702.7" x2="2663.5" y2="691.5" stroke="#B0284C" stroke-width="9"/>
<line x1="2730.1" y1="726.4" x2="2775.3" y2="702.7" stroke="#04048C" stroke-width="9"/>
<line x1="2775.3" y1="702.7" x2="2796.7" y2="691.5" stroke="#B0284C" stroke-width="9"/>
<line x1="2730.1" y1="726.4" x2="2684.8" y2="757.5" stroke="#04048C" stroke-width="9"/>
<line x1="2684.8" y1="757.5" x2="2661.8" y2="773.2" stroke="#B0284C" stroke-width="9"/>
<line x1="2730.1" y1="726.4" x2="2775.3" y2="757.5" stroke="#04048C" stroke-width="9"/>
<line x1="2775.3" y1="757.5" x2="2798.3" y2="773.2" stroke="#B0284C" stroke-width="9"/>
<line x1="2367.7" y1="1012.5" x2="2367.7" y2="969.3" stroke="#3E9CEC" stroke-width="9"/>
<line x1="2367.7" y1="969.3" x2="2367.7" y2="953" stroke="#B0284C" stroke-width="9"/>
<line x1="2367.7" y1="1012.5" x2="2367.7" y2="1054.7" stroke="#3E9CEC" stroke-width="9"/>
<line x1="2367.7" y1="1054.7" x2="2367.7" y2="1069.8" stroke="#B0284C" stroke-width="9"/>
<line x1="2367.7" y1="1012.5" x2="2322.4" y2="984.8" stroke="#3E9CEC" stroke-width="9"/>
<line x1="2322.4" y1="984.8" x2="2300.2" y2="971.2" stroke="#B0284C" stroke-width="9"/>
<line x1="2367.7" y1="1012.5" x2="2412.9" y2="984.8" stroke="#3E9CEC" stroke-width="9"/>
<line x1="2412.9" y1="984.8" x2="2435.1" y2="971.2" stroke="#B0284C" stroke-width="9"/>
<line x1="2367.7" y1="1012.5" x2="2322.4" y2="1039.1" stroke="#3E9CEC" stroke-width="9"/>
<line x1="2322.4" y1="1039.1" x2="2300.5" y2="1052.1" stroke="#B0284C" stroke-width="9"/>
<line x1="2367.7" y1="1012.5" x2="2412.9" y2="1039.1" stroke="#3E9CEC" stroke-width="9"/>
<line x1="2412.9" y1="1039.1" x2="2434.9" y2="1052.1" stroke="#B0284C" stroke-width="9"/>
<line x1="2911.9" y1="1012.5" x2="2911.9" y2="969.3" stroke="#3E9CEC" stroke-width="9"/>
<line x1="2911.9" y1="969.3" x2="2911.9" y2="953" stroke="#B0284C" stroke-width="9"/>
<line x1="2911.9" y1="1012.5" x2="2911.9" y2="1054.7" stroke="#3E9CEC" stroke-width="9"/>
<line x1="2911.9" y1="1054.7" x2="2911.9" y2="1069.8" stroke="#B0284C" stroke-width="9"/>
<line x1="2911.9" y1="1012.5" x2="2866.7" y2="984.8" stroke="#3E9CEC" stroke-width="9"/>
<line x1="2866.7" y1="984.8" x2="2844.5" y2="971.2" stroke="#B0284C" stroke-width="9"/>
<line x1="2911.9" y1="1012.5" x2="2957.2" y2="984.8" stroke="#3E9CEC" stroke-width="9"/>
<line x1="2957.2" y1="984.8" x2="2979.4" y2="971.2" stroke="#B0284C" stroke-width="9"/>
<line x1="2911.9" y1="1012.5" x2="2866.7" y2="1039.1" stroke="#3E9CEC" stroke-width="9"/>
<line x1="2866.7" y1="1039.1" x2="2844.7" y2="1052.1" stroke="#B0284C" stroke-width="9"/>
<line x1="2911.9" y1="1012.5" x2="2957.2" y2="1039.1" stroke="#3E9CEC" stroke-width="9"/>
<line x1="2957.2" y1="1039.1" x2="2979.2" y2="1052.1" stroke="#B0284C" stroke-width="9"/>
<line x1="2549.1" y1="1012.5" x2="2549.1" y2="969.3" stroke="#04048C" stroke-width="9"/>
<line x1="2549.1" y1="969.3" x2="2549.1" y2="953" stroke="#B0284C" stroke-width="9"/>
<line x1="2549.1" y1="1012.5" x2="2549.1" y2="1054.7" stroke="#04048C" stroke-width="9"/>
<line x1="2549.1" y1="1054.7" x2="2549.1" y2="1069.8" stroke="#B0284C" stroke-width="9"/>
<line x1="2549.1" y1="1012.5" x2="2503.9" y2="984.8" stroke="#04048C" stroke-width="9"/>
<line x1="2503.9" y1="984.8" x2="2481.6" y2="971.2" stroke="#B0284C" stroke-width="9"/>
<line x1="2549.1" y1="1012.5" x2="2594.3" y2="984.8" stroke="#04048C" stroke-width="9"/>
<line x1="2594.3" y1="984.8" x2="2616.6" y2="971.2" stroke="#B0284C" stroke-width="9"/>
<line x1="2549.1" y1="1012.5" x2="2503.9" y2="1039.1" stroke="#04048C" stroke-width="9"/>
<line x1="2503.9" y1="1039.1" x2="2481.9" y2="1052.1" stroke="#B0284C" stroke-width="9"/>
<line x1="2549.1" y1="1012.5" x2="2594.3" y2="1039.1" stroke="#04048C" stroke-width="9"/>
<line x1="2594.3" y1="1039.1" x2="2616.3" y2="1052.1" stroke="#B0284C" stroke-width="9"/>
<line x1="2730.1" y1="1012.5" x2="2730.1" y2="969.3" stroke="#04048C" stroke-width="9"/>
<line x1="2730.1" y1="969.3" x2="2730.1" y2="953" stroke="#B0284C" stroke-width="9"/>
<line x1="2730.1" y1="1012.5" x2="2730.1" y2="1054.7" stroke="#04048C" stroke-width="9"/>
<line x1="2730.1" y1="1054.7" x2="2730.1" y2="1069.8" stroke="#B0284C" stroke-width="9"/>
<line x1="2730.1" y1="1012.5" x2="2684.8" y2="984.8" stroke="#04048C" stroke-width="9"/>
<line x1="2684.8" y1="984.8" x2="2662.6" y2="971.2" stroke="#B0284C" stroke-width="9"/>
<line x1="2730.1" y1="1012.5" x2="2775.3" y2="984.8" stroke="#04048C" stroke-width="9"/>
<line x1="2775.3" y1="984.8" x2="2797.5" y2="971.2" stroke="#B0284C" stroke-width="9"/>
<line x1="2730.1" y1="1012.5" x2="2684.8" y2="1039.1" stroke="#04048C" stroke-width="9"/>
<line x1="2684.8" y1="1039.1" x2="2662.9" y2="1052.1" stroke="#B0284C" stroke-width="9"/>
<line x1="2730.1" y1="1012.5" x2="2775.3" y2="1039.1" stroke="#04048C" stroke-width="9"/>
<line x1="2775.3" y1="1039.1" x2="2797.3" y2="1052.1" stroke="#B0284C" stroke-width="9"/>
<line x1="2277.6" y1="871.5" x2="2277.6" y2="830" stroke="#04048C" stroke-width="9"/>
<line x1="2277.6" y1="830" x2="2277.6" y2="815.5" stroke="#B0284C" stroke-width="9"/>
<line x1="2277.6" y1="871.5" x2="2277.6" y2="914.3" stroke="#04048C" stroke-width="9"/>
<line x1="2277.6" y1="914.3" x2="2277.6" y2="930.1" stroke="#B0284C" stroke-width="9"/>
<line x1="2277.6" y1="871.5" x2="2322.9" y2="844.9" stroke="#04048C" stroke-width="9"/>
<line x1="2322.9" y1="844.9" x2="2344.8" y2="831.9" stroke="#B0284C" stroke-width="9"/>
<line x1="2277.6" y1="871.5" x2="2322.9" y2="898.7" stroke="#04048C" stroke-width="9"/>
<line x1="2322.9" y1="898.7" x2="2345" y2="912.1" stroke="#B0284C" stroke-width="9"/>
<line x1="2458.2" y1="871.5" x2="2458.2" y2="830" stroke="#04048C" stroke-width="9"/>
<line x1="2458.2" y1="830" x2="2458.2" y2="815.5" stroke="#B0284C" stroke-width="9"/>
<line x1="2458.2" y1="871.5" x2="2458.2" y2="914.3" stroke="#04048C" stroke-width="9"/>
<line x1="2458.2" y1="914.3" x2="2458.2" y2="930.1" stroke="#B0284C" stroke-width="9"/>
<line x1="2458.2" y1="871.5" x2="2412.9" y2="844.9" stroke="#04048C" stroke-width="9"/>
<line x1="2412.9" y1="844.9" x2="2390.9" y2="831.9" stroke="#B0284C" stroke-width="9"/>
<line x1="2458.2" y1="871.5" x2="2503.4" y2="844.9" stroke="#04048C" stroke-width="9"/>
<line x1="2503.4" y1="844.9" x2="2525.4" y2="831.9" stroke="#B0284C" stroke-width="9"/>
<line x1="2458.2" y1="871.5" x2="2412.9" y2="898.7" stroke="#04048C" stroke-width="9"/>
<line x1="2412.9" y1="898.7" x2="2390.8" y2="912.1" stroke="#B0284C" stroke-width="9"/>
<line x1="2458.2" y1="871.5" x2="2503.4" y2="898.7" stroke="#04048C" stroke-width="9"/>
<line x1="2503.4" y1="898.7" x2="2525.5" y2="912.1" stroke="#B0284C" stroke-width="9"/>
<line x1="2821" y1="871.5" x2="2821" y2="830" stroke="#04048C" stroke-width="9"/>
<line x1="2821" y1="830" x2="2821" y2="815.5" stroke="#B0284C" stroke-width="9"/>
<line x1="2821" y1="871.5" x2="2821" y2="914.3" stroke="#04048C" stroke-width="9"/>
<line x1="2821" y1="914.3" x2="2821" y2="930.1" stroke="#B0284C" stroke-width="9"/>
<line x1="2821" y1="871.5" x2="2775.8" y2="844.9" stroke="#04048C" stroke-width="9"/>
<line x1="2775.8" y1="844.9" x2="2753.8" y2="831.9" stroke="#B0284C" stroke-width="9"/>
<line x1="2821" y1="871.5" x2="2866.3" y2="844.9" stroke="#04048C" stroke-width="9"/>
<line x1="2866.3" y1="844.9" x2="2888.2" y2="831.9" stroke="#B0284C" stroke-width="9"/>
<line x1="2821" y1="871.5" x2="2775.8" y2="898.7" stroke="#04048C" stroke-width="9"/>
<line x1="2775.8" y1="898.7" x2="2753.6" y2="912.1" stroke="#B0284C" stroke-width="9"/>
<line x1="2821" y1="871.5" x2="2866.3" y2="898.7" stroke="#04048C" stroke-width="9"/>
<line x1="2866.3" y1="898.7" x2="2888.4" y2="912.1" stroke="#B0284C" stroke-width="9"/>
<line x1="3002" y1="871.5" x2="3002" y2="830" stroke="#04048C" stroke-width="9"/>
<line x1="3002" y1="830" x2="3002" y2="815.5" stroke="#B0284C" stroke-width="9"/>
<line x1="3002" y1="871.5" x2="3002" y2="914.3" stroke="#04048C" stroke-width="9"/>
<line x1="3002" y1="914.3" x2="3002" y2="930.1" stroke="#B0284C" stroke-width="9"/>
<line x1="3002" y1="871.5" x2="2956.7" y2="844.9" stroke="#04048C" stroke-width="9"/>
<line x1="2956.7" y1="844.9" x2="2934.8" y2="831.9" stroke="#B0284C" stroke-width="9"/>
<line x1="3002" y1="871.5" x2="2956.7" y2="898.7" stroke="#04048C" stroke-width="9"/>
<line x1="2956.7" y1="898.7" x2="2934.6" y2="912.1" stroke="#B0284C" stroke-width="9"/>
<line x1="2640" y1="871.5" x2="2640" y2="830" stroke="#3E9CEC" stroke-width="9"/>
<line x1="2640" y1="830" x2="2640" y2="815.5" stroke="#B0284C" stroke-width="9"/>
<line x1="2640" y1="871.5" x2="2640" y2="914.3" stroke="#3E9CEC" stroke-width="9"/>
<line x1="2640" y1="914.3" x2="2640" y2="930.1" stroke="#B0284C" stroke-width="9"/>
<line x1="2640" y1="871.5" x2="2594.8" y2="844.9" stroke="#3E9CEC" stroke-width="9"/>
<line x1="2594.8" y1="844.9" x2="2572.8" y2="831.9" stroke="#B0284C" stroke-width="9"/>
<line x1="2640" y1="871.5" x2="2685.3" y2="844.9" stroke="#3E9CEC" stroke-width="9"/>
<line x1="2685.3" y1="844.9" x2="2707.2" y2="831.9" stroke="#B0284C" stroke-width="9"/>
<line x1="2640" y1="871.5" x2="2594.8" y2="898.7" stroke="#3E9CEC" stroke-width="9"/>
<line x1="2594.8" y1="898.7" x2="2572.7" y2="912.1" stroke="#B0284C" stroke-width="9"/>
<line x1="2640" y1="871.5" x2="2685.3" y2="898.7" stroke="#3E9CEC" stroke-width="9"/>
<line x1="2685.3" y1="898.7" x2="2707.4" y2="912.1" stroke="#B0284C" stroke-width="9"/>
<circle cx="2367.7" cy="726.4" r="29" fill="url(#fC)"/>
<circle cx="2911.9" cy="726.4" r="29" fill="url(#fC)"/>
<circle cx="2549.1" cy="726.4" r="29" fill="url(#fT)"/>
<circle cx="2730.1" cy="726.4" r="29" fill="url(#fT)"/>
<circle cx="2367.7" cy="1012.5" r="29" fill="url(#fC)"/>
<circle cx="2911.9" cy="1012.5" r="29" fill="url(#fC)"/>
<circle cx="2549.1" cy="1012.5" r="29" fill="url(#fT)"/>
<circle cx="2730.1" cy="1012.5" r="29" fill="url(#fT)"/>
<circle cx="2277.6" cy="871.5" r="29" fill="url(#fT)"/>
<circle cx="2458.2" cy="871.5" r="29" fill="url(#fT)"/>
<circle cx="2821" cy="871.5" r="29" fill="url(#fT)"/>
<circle cx="3002" cy="871.5" r="29" fill="url(#fT)"/>
<circle cx="2640" cy="871.5" r="29" fill="url(#fC)"/>
<path d="M2441.2 794.5 Q2449.2 776.5 2458.2 764.5 Q2467.2 776.5 2475.2 794.5 Z" fill="#f40404"/>
<path d="M2441.2 1071.8 Q2449.2 1053.8 2458.2 1041.8 Q2467.2 1053.8 2475.2 1071.8 Z" fill="#f40404"/>
<path d="M2623 794.5 Q2631 776.5 2640 764.5 Q2649 776.5 2657 794.5 Z" fill="#f40404"/>
<path d="M2623 1071.8 Q2631 1053.8 2640 1041.8 Q2649 1053.8 2657 1071.8 Z" fill="#f40404"/>
<path d="M2804 794.5 Q2812 776.5 2821 764.5 Q2830 776.5 2838 794.5 Z" fill="#f40404"/>
<path d="M2804 1071.8 Q2812 1053.8 2821 1041.8 Q2830 1053.8 2838 1071.8 Z" fill="#f40404"/>
<path d="M2305.5 795.6 A28.8 28.8 0 0 1 2249.7 795.6 Z" fill="#ec0202"/>
<path d="M2305.7 1072 A28.8 28.8 0 0 1 2249.5 1072 Z" fill="#ec0202"/>
<path d="M2486.1 795.6 A28.8 28.8 0 0 1 2430.3 795.6 Z" fill="#ec0202"/>
<path d="M2486.3 1072 A28.8 28.8 0 0 1 2430 1072 Z" fill="#ec0202"/>
<path d="M2667.9 795.6 A28.8 28.8 0 0 1 2612.1 795.6 Z" fill="#ec0202"/>
<path d="M2668.2 1072 A28.8 28.8 0 0 1 2611.9 1072 Z" fill="#ec0202"/>
<path d="M2848.9 795.6 A28.8 28.8 0 0 1 2793.1 795.6 Z" fill="#ec0202"/>
<path d="M2849.1 1072 A28.8 28.8 0 0 1 2792.9 1072 Z" fill="#ec0202"/>
<path d="M3029.9 795.6 A28.8 28.8 0 0 1 2974.1 795.6 Z" fill="#ec0202"/>
<path d="M3030.1 1072 A28.8 28.8 0 0 1 2973.9 1072 Z" fill="#ec0202"/>
<path d="M2277.6 759.7 A28.8 28.8 0 0 0 2277.6 817.3 Z" fill="url(#fR)"/>
<path d="M2277.6 1037 A28.8 28.8 0 0 0 2277.6 1094.6 Z" fill="url(#fR)"/>
<path d="M3002 759.7 A28.8 28.8 0 0 1 3002 817.3 Z" fill="url(#fR)"/>
<path d="M3002 1037 A28.8 28.8 0 0 1 3002 1094.6 Z" fill="url(#fR)"/>
<circle cx="2367.7" cy="818.2" r="28.8" fill="url(#fR)"/>
<circle cx="2367.7" cy="1096.8" r="28.8" fill="url(#fR)"/>
<circle cx="2549.1" cy="818.2" r="28.8" fill="url(#fR)"/>
<circle cx="2549.1" cy="1096.8" r="28.8" fill="url(#fR)"/>
<circle cx="2730.1" cy="818.2" r="28.8" fill="url(#fR)"/>
<circle cx="2730.1" cy="1096.8" r="28.8" fill="url(#fR)"/>
<circle cx="2911.9" cy="818.2" r="28.8" fill="url(#fR)"/>
<circle cx="2911.9" cy="1096.8" r="28.8" fill="url(#fR)"/>
<circle cx="2277.6" cy="679" r="28.8" fill="url(#fR)"/>
<circle cx="2277.6" cy="957.1" r="28.8" fill="url(#fR)"/>
<circle cx="2458.2" cy="679" r="28.8" fill="url(#fR)"/>
<circle cx="2458.2" cy="957.1" r="28.8" fill="url(#fR)"/>
<circle cx="2640" cy="679" r="28.8" fill="url(#fR)"/>
<circle cx="2640" cy="957.1" r="28.8" fill="url(#fR)"/>
<circle cx="2821" cy="679" r="28.8" fill="url(#fR)"/>
<circle cx="2821" cy="957.1" r="28.8" fill="url(#fR)"/>
<circle cx="3002" cy="679" r="28.8" fill="url(#fR)"/>
<circle cx="3002" cy="957.1" r="28.8" fill="url(#fR)"/>
<!-- panel g -->
<line x1="2348.8" y1="1873.9" x2="2476.2" y2="1873.9" stroke="#000" stroke-width="3.1" stroke-linecap="round"/>
<line x1="2516.4" y1="1708.5" x2="2643.8" y2="1708.5" stroke="#000" stroke-width="3.1" stroke-linecap="round"/>
<line x1="2683.9" y1="1543.1" x2="2811.3" y2="1543.1" stroke="#000" stroke-width="3.1" stroke-linecap="round"/>
<line x1="2851.4" y1="1377.7" x2="2978.8" y2="1377.7" stroke="#000" stroke-width="3.1" stroke-linecap="round"/>
<circle cx="2914.9" cy="1451.1" r="6.9" fill="#4DC4B0" stroke="#000" stroke-width="3.1"/>
<circle cx="2915.1" cy="1234.1" r="6.9" fill="#4DC4B0" stroke="#000" stroke-width="3.1"/>
<circle cx="2920.3" cy="1251.7" r="6.9" fill="#4DC4B0" stroke="#000" stroke-width="3.1"/>
<circle cx="2902.8" cy="1256.8" r="6.9" fill="#4DC4B0" stroke="#000" stroke-width="3.1"/>
<circle cx="2932.7" cy="1265" r="6.9" fill="#4DC4B0" stroke="#000" stroke-width="3.1"/>
<circle cx="2915.1" cy="1269.5" r="6.9" fill="#4DC4B0" stroke="#000" stroke-width="3.1"/>
<circle cx="2886.5" cy="1277.4" r="6.9" fill="#4DC4B0" stroke="#000" stroke-width="3.1"/>
<circle cx="2903.8" cy="1282.4" r="6.9" fill="#4DC4B0" stroke="#000" stroke-width="3.1"/>
<circle cx="2935.7" cy="1290.1" r="6.9" fill="#4DC4B0" stroke="#000" stroke-width="3.1"/>
<circle cx="2917.9" cy="1293.1" r="6.9" fill="#4DC4B0" stroke="#000" stroke-width="3.1"/>
<circle cx="2904" cy="1303.7" r="6.9" fill="#4DC4B0" stroke="#000" stroke-width="3.1"/>
<circle cx="2915.1" cy="1317.2" r="6.9" fill="#4DC4B0" stroke="#000" stroke-width="3.1"/>
<circle cx="2923.6" cy="1335.1" r="6.9" fill="#4DC4B0" stroke="#000" stroke-width="3.1"/>
<circle cx="2900.4" cy="1340.5" r="6.9" fill="#4DC4B0" stroke="#000" stroke-width="3.1"/>
<circle cx="2915.1" cy="1350.1" r="6.9" fill="#4DC4B0" stroke="#000" stroke-width="3.1"/>
<circle cx="2888.1" cy="1363.8" r="6.9" fill="#4DC4B0" stroke="#000" stroke-width="3.1"/>
<circle cx="2905.8" cy="1367.4" r="6.9" fill="#4DC4B0" stroke="#000" stroke-width="3.1"/>
<circle cx="2929.8" cy="1371.6" r="6.9" fill="#4DC4B0" stroke="#000" stroke-width="3.1"/>
<circle cx="2915.1" cy="1381.6" r="6.9" fill="#4DC4B0" stroke="#000" stroke-width="3.1"/>
<circle cx="2884.4" cy="1385.2" r="6.9" fill="#4DC4B0" stroke="#000" stroke-width="3.1"/>
<circle cx="2930.6" cy="1390.4" r="6.9" fill="#4DC4B0" stroke="#000" stroke-width="3.1"/>
<circle cx="2897.4" cy="1397.6" r="6.9" fill="#4DC4B0" stroke="#000" stroke-width="3.1"/>
<circle cx="2915.1" cy="1399.2" r="6.9" fill="#4DC4B0" stroke="#000" stroke-width="3.1"/>
<circle cx="2747.7" cy="1314.8" r="6.9" fill="#4DC4B0" stroke="#000" stroke-width="3.1"/>
<circle cx="2747.7" cy="1335.7" r="6.9" fill="#4DC4B0" stroke="#000" stroke-width="3.1"/>
<circle cx="2747.7" cy="1404" r="6.9" fill="#4DC4B0" stroke="#000" stroke-width="3.1"/>
<circle cx="2714.6" cy="1436.8" r="6.9" fill="#4DC4B0" stroke="#000" stroke-width="3.1"/>
<circle cx="2779.5" cy="1433.9" r="6.9" fill="#4DC4B0" stroke="#000" stroke-width="3.1"/>
<circle cx="2730.1" cy="1445.1" r="6.9" fill="#4DC4B0" stroke="#000" stroke-width="3.1"/>
<circle cx="2763.6" cy="1442.1" r="6.9" fill="#4DC4B0" stroke="#000" stroke-width="3.1"/>
<circle cx="2747.7" cy="1449.6" r="6.9" fill="#4DC4B0" stroke="#000" stroke-width="3.1"/>
<circle cx="2711.6" cy="1465.2" r="6.9" fill="#4DC4B0" stroke="#000" stroke-width="3.1"/>
<circle cx="2729.4" cy="1465.2" r="6.9" fill="#4DC4B0" stroke="#000" stroke-width="3.1"/>
<circle cx="2747.7" cy="1466.9" r="6.9" fill="#4DC4B0" stroke="#000" stroke-width="3.1"/>
<circle cx="2765.6" cy="1466.1" r="6.9" fill="#4DC4B0" stroke="#000" stroke-width="3.1"/>
<circle cx="2783.9" cy="1465.2" r="6.9" fill="#4DC4B0" stroke="#000" stroke-width="3.1"/>
<circle cx="2716.4" cy="1483.1" r="6.9" fill="#4DC4B0" stroke="#000" stroke-width="3.1"/>
<circle cx="2781.7" cy="1488" r="6.9" fill="#4DC4B0" stroke="#000" stroke-width="3.1"/>
<circle cx="2729.9" cy="1494.9" r="6.9" fill="#4DC4B0" stroke="#000" stroke-width="3.1"/>
<circle cx="2763" cy="1488.8" r="6.9" fill="#4DC4B0" stroke="#000" stroke-width="3.1"/>
<circle cx="2747.7" cy="1497" r="6.9" fill="#4DC4B0" stroke="#000" stroke-width="3.1"/>
<circle cx="2747.7" cy="1516.1" r="6.9" fill="#4DC4B0" stroke="#000" stroke-width="3.1"/>
<circle cx="2782.3" cy="1531.9" r="6.9" fill="#4DC4B0" stroke="#000" stroke-width="3.1"/>
<circle cx="2711.6" cy="1535.6" r="6.9" fill="#4DC4B0" stroke="#000" stroke-width="3.1"/>
<circle cx="2729.4" cy="1538.8" r="6.9" fill="#4DC4B0" stroke="#000" stroke-width="3.1"/>
<circle cx="2747.7" cy="1539.6" r="6.9" fill="#4DC4B0" stroke="#000" stroke-width="3.1"/>
<circle cx="2765.6" cy="1538" r="6.9" fill="#4DC4B0" stroke="#000" stroke-width="3.1"/>
<circle cx="2719.3" cy="1557.3" r="6.9" fill="#4DC4B0" stroke="#000" stroke-width="3.1"/>
<circle cx="2762.8" cy="1562.4" r="6.9" fill="#4DC4B0" stroke="#000" stroke-width="3.1"/>
<circle cx="2729.4" cy="1571.6" r="6.9" fill="#4DC4B0" stroke="#000" stroke-width="3.1"/>
<circle cx="2747.7" cy="1571.6" r="6.9" fill="#4DC4B0" stroke="#000" stroke-width="3.1"/>
<circle cx="2731.3" cy="1637.2" r="6.9" fill="#4DC4B0" stroke="#000" stroke-width="3.1"/>
<circle cx="2747.7" cy="1644.1" r="6.9" fill="#4DC4B0" stroke="#000" stroke-width="3.1"/>
<circle cx="2580.1" cy="1354.8" r="6.9" fill="#4DC4B0" stroke="#000" stroke-width="3.1"/>
<circle cx="2580.1" cy="1472.9" r="6.9" fill="#4DC4B0" stroke="#000" stroke-width="3.1"/>
<circle cx="2580.1" cy="1498.2" r="6.9" fill="#4DC4B0" stroke="#000" stroke-width="3.1"/>
<circle cx="2580.1" cy="1534.4" r="6.9" fill="#4DC4B0" stroke="#000" stroke-width="3.1"/>
<circle cx="2580.1" cy="1591.1" r="6.9" fill="#4DC4B0" stroke="#000" stroke-width="3.1"/>
<circle cx="2564.5" cy="1602.2" r="6.9" fill="#4DC4B0" stroke="#000" stroke-width="3.1"/>
<circle cx="2580.1" cy="1610.7" r="6.9" fill="#4DC4B0" stroke="#000" stroke-width="3.1"/>
<circle cx="2542.8" cy="1623.7" r="6.9" fill="#4DC4B0" stroke="#000" stroke-width="3.1"/>
<circle cx="2560.7" cy="1625.8" r="6.9" fill="#4DC4B0" stroke="#000" stroke-width="3.1"/>
<circle cx="2578.7" cy="1628.2" r="6.9" fill="#4DC4B0" stroke="#000" stroke-width="3.1"/>
<circle cx="2602.1" cy="1624.9" r="6.9" fill="#4DC4B0" stroke="#000" stroke-width="3.1"/>
<circle cx="2591.9" cy="1639" r="6.9" fill="#4DC4B0" stroke="#000" stroke-width="3.1"/>
<circle cx="2562.1" cy="1650.8" r="6.9" fill="#4DC4B0" stroke="#000" stroke-width="3.1"/>
<circle cx="2580.1" cy="1652.5" r="6.9" fill="#4DC4B0" stroke="#000" stroke-width="3.1"/>
<circle cx="2562.1" cy="1670.2" r="6.9" fill="#4DC4B0" stroke="#000" stroke-width="3.1"/>
<circle cx="2580.1" cy="1671.4" r="6.9" fill="#4DC4B0" stroke="#000" stroke-width="3.1"/>
<circle cx="2552.5" cy="1695" r="6.9" fill="#4DC4B0" stroke="#000" stroke-width="3.1"/>
<circle cx="2570.4" cy="1698.1" r="6.9" fill="#4DC4B0" stroke="#000" stroke-width="3.1"/>
<circle cx="2608.2" cy="1692.2" r="6.9" fill="#4DC4B0" stroke="#000" stroke-width="3.1"/>
<circle cx="2596.4" cy="1704.7" r="6.9" fill="#4DC4B0" stroke="#000" stroke-width="3.1"/>
<circle cx="2580.1" cy="1712.7" r="6.9" fill="#4DC4B0" stroke="#000" stroke-width="3.1"/>
<circle cx="2547.7" cy="1717" r="6.9" fill="#4DC4B0" stroke="#000" stroke-width="3.1"/>
<circle cx="2611.8" cy="1716.3" r="6.9" fill="#4DC4B0" stroke="#000" stroke-width="3.1"/>
<circle cx="2629.9" cy="1715.6" r="6.9" fill="#4DC4B0" stroke="#000" stroke-width="3.1"/>
<circle cx="2562.9" cy="1726.9" r="6.9" fill="#4DC4B0" stroke="#000" stroke-width="3.1"/>
<circle cx="2597.6" cy="1726.4" r="6.9" fill="#4DC4B0" stroke="#000" stroke-width="3.1"/>
<circle cx="2580.1" cy="1731.6" r="6.9" fill="#4DC4B0" stroke="#000" stroke-width="3.1"/>
<circle cx="2412.6" cy="1702.1" r="6.9" fill="#4DC4B0" stroke="#000" stroke-width="3.1"/>
<circle cx="2412.6" cy="1776.9" r="6.9" fill="#4DC4B0" stroke="#000" stroke-width="3.1"/>
<circle cx="2412.6" cy="1800.3" r="6.9" fill="#4DC4B0" stroke="#000" stroke-width="3.1"/>
<circle cx="2412.6" cy="1835.1" r="6.9" fill="#4DC4B0" stroke="#000" stroke-width="3.1"/>
<circle cx="2398.3" cy="1863.7" r="6.9" fill="#4DC4B0" stroke="#000" stroke-width="3.1"/>
<circle cx="2412.6" cy="1874.4" r="6.9" fill="#4DC4B0" stroke="#000" stroke-width="3.1"/>
<polygon points="2886.5,1301.4 2875,1324.4 2898,1324.4" fill="#FDB70D" stroke="#000" stroke-width="3.1" stroke-linejoin="miter"/>
<rect x="2245" y="1212.3" width="788.4" height="827" fill="none" stroke="#000" stroke-width="3.1"/>
<line x1="2412.5" y1="2039.3" x2="2412.5" y2="2024.3" stroke="#000" stroke-width="3"/>
<text x="2413" y="2093" font-size="50" text-anchor="middle" textLength="53.5" lengthAdjust="spacingAndGlyphs">50</text>
<line x1="2245" y1="1873.9" x2="2260" y2="1873.9" stroke="#000" stroke-width="3"/>
<line x1="2580.1" y1="2039.3" x2="2580.1" y2="2024.3" stroke="#000" stroke-width="3"/>
<text x="2580.6" y="2093" font-size="50" text-anchor="middle" textLength="80.5" lengthAdjust="spacingAndGlyphs">100</text>
<line x1="2245" y1="1708.5" x2="2260" y2="1708.5" stroke="#000" stroke-width="3"/>
<line x1="2747.6" y1="2039.3" x2="2747.6" y2="2024.3" stroke="#000" stroke-width="3"/>
<text x="2748.1" y="2093" font-size="50" text-anchor="middle" textLength="80.5" lengthAdjust="spacingAndGlyphs">150</text>
<line x1="2245" y1="1543.1" x2="2260" y2="1543.1" stroke="#000" stroke-width="3"/>
<line x1="2915.1" y1="2039.3" x2="2915.1" y2="2024.3" stroke="#000" stroke-width="3"/>
<text x="2915.6" y="2093" font-size="50" text-anchor="middle" textLength="80.5" lengthAdjust="spacingAndGlyphs">200</text>
<line x1="2245" y1="1377.7" x2="2260" y2="1377.7" stroke="#000" stroke-width="3"/>
<text x="2225.5" y="2053.3" font-size="50" text-anchor="end" textLength="26.5" lengthAdjust="spacingAndGlyphs">0</text>
<text x="2225.5" y="1887.9" font-size="50" text-anchor="end" textLength="53.5" lengthAdjust="spacingAndGlyphs">50</text>
<text x="2225.5" y="1722.5" font-size="50" text-anchor="end" textLength="80.5" lengthAdjust="spacingAndGlyphs">100</text>
<text x="2225.5" y="1557.1" font-size="50" text-anchor="end" textLength="80.5" lengthAdjust="spacingAndGlyphs">150</text>
<text x="2225.5" y="1391.7" font-size="50" text-anchor="end" textLength="80.5" lengthAdjust="spacingAndGlyphs">200</text>
<text x="2225.5" y="1226.3" font-size="50" text-anchor="end" textLength="80.5" lengthAdjust="spacingAndGlyphs">250</text>
<text x="2266.5" y="1279" font-size="50" textLength="66.5" lengthAdjust="spacingAndGlyphs">(g)</text>
<text x="2247.5" y="2167.4" font-size="50" textLength="783.5" lengthAdjust="spacingAndGlyphs">Target bulk modulus value/GPa</text>
<text x="2091.1" y="1622.8" font-size="50" text-anchor="middle" textLength="601.5" lengthAdjust="spacingAndGlyphs" transform="rotate(-90 2090.6 1622.8)">DFT bulk modulus/GPa</text>
<line x1="2658" y1="1787" x2="2735.5" y2="1787" stroke="#000" stroke-width="3.1" stroke-linecap="round"/>
<text x="2755.1" y="1802.5" font-size="50" textLength="242.9" lengthAdjust="spacingAndGlyphs">Perfect fit</text>
<polygon points="2696.6,1837 2685.1,1860 2708.1,1860" fill="#FDB70D" stroke="#000" stroke-width="3.1" stroke-linejoin="miter"/>
<text x="2755.1" y="1862.5" font-size="50" textLength="122.8" lengthAdjust="spacingAndGlyphs">TaCr</text>
<text x="2877.9" y="1870.5" font-size="31.5" textLength="20.1" lengthAdjust="spacingAndGlyphs" stroke-width="0.7">2</text>
<text x="2898" y="1862.5" font-size="50" textLength="43.9" lengthAdjust="spacingAndGlyphs">O</text>
<text x="2941.9" y="1870.5" font-size="31.5" textLength="20.1" lengthAdjust="spacingAndGlyphs" stroke-width="0.7">6</text>
<circle cx="2696.6" cy="1914.7" r="6.9" fill="#4DC4B0" stroke="#000" stroke-width="3.1"/>
<text x="2755.1" y="1926.5" font-size="50" textLength="129.9" lengthAdjust="spacingAndGlyphs">ICSD</text>
<text x="2755.1" y="1975.2" font-size="50" textLength="242.9" lengthAdjust="spacingAndGlyphs">structures</text>
<!-- hist c -->
<rect x="256.8" y="2272.5" width="29.7" height="582.8" fill="#DADAD5"/>
<rect x="286" y="2674.4" width="29.2" height="180.9" fill="#DADAD5"/>
<rect x="314.7" y="2774.3" width="29.2" height="81" fill="#DADAD5"/>
<rect x="343.4" y="2807.7" width="29.2" height="47.6" fill="#DADAD5"/>
<rect x="372.1" y="2823" width="29.7" height="32.3" fill="#DADAD5"/>
<rect x="401.4" y="2829.2" width="29.2" height="26.1" fill="#DADAD5"/>
<rect x="430.1" y="2830.2" width="29.2" height="25.1" fill="#DADAD5"/>
<rect x="458.8" y="2834.3" width="29.2" height="21" fill="#DADAD5"/>
<rect x="487.5" y="2839.9" width="29.7" height="15.4" fill="#DADAD5"/>
<rect x="516.7" y="2843.5" width="29.2" height="11.8" fill="#DADAD5"/>
<rect x="545.4" y="2846.1" width="29.2" height="9.2" fill="#DADAD5"/>
<rect x="574.1" y="2847.1" width="29.7" height="8.2" fill="#DADAD5"/>
<rect x="603.3" y="2848.1" width="29.2" height="7.2" fill="#DADAD5"/>
<rect x="632" y="2850.2" width="30.2" height="5.1" fill="#DADAD5"/>
<rect x="661.7" y="2818.4" width="58.4" height="36.9" fill="#4DC4B0"/>
<rect x="719.7" y="2800.5" width="57.9" height="54.8" fill="#4DC4B0"/>
<rect x="777.1" y="2761.5" width="29.7" height="93.8" fill="#4DC4B0"/>
<rect x="806.3" y="2728.7" width="29.2" height="126.6" fill="#4DC4B0"/>
<rect x="835" y="2530.9" width="29.2" height="324.4" fill="#4DC4B0"/>
<rect x="863.7" y="2621.1" width="29.7" height="234.2" fill="#4DC4B0"/>
<rect x="950.8" y="2765.1" width="29.2" height="90.2" fill="#4DC4B0"/>
<line x1="879.6" y1="2264.3" x2="879.6" y2="2855.3" stroke="#000" stroke-width="3" stroke-dasharray="14 13.4" stroke-dashoffset="3" stroke-linecap="round"/>
<rect x="219.4" y="2264.3" width="827.8" height="591" fill="none" stroke="#000" stroke-width="3.1"/>
<line x1="253.2" y1="2855.3" x2="253.2" y2="2840.3" stroke="#000" stroke-width="3"/>
<text x="253.7" y="2909.1" font-size="50" text-anchor="middle" textLength="26.5" lengthAdjust="spacingAndGlyphs">0</text>
<line x1="566.4" y1="2855.3" x2="566.4" y2="2840.3" stroke="#000" stroke-width="3"/>
<text x="566.9" y="2909.1" font-size="50" text-anchor="middle" textLength="69.5" lengthAdjust="spacingAndGlyphs">0.1</text>
<line x1="879" y1="2855.3" x2="879" y2="2840.3" stroke="#000" stroke-width="3"/>
<text x="879.5" y="2909.1" font-size="50" text-anchor="middle" textLength="69.5" lengthAdjust="spacingAndGlyphs">0.2</text>
<text x="199.8" y="2278.7" font-size="50" text-anchor="end" textLength="53.5" lengthAdjust="spacingAndGlyphs">60</text>
<line x1="219.4" y1="2461.7" x2="234.4" y2="2461.7" stroke="#000" stroke-width="3"/>
<text x="199.8" y="2476.1" font-size="50" text-anchor="end" textLength="53.5" lengthAdjust="spacingAndGlyphs">40</text>
<line x1="219.4" y1="2658.5" x2="234.4" y2="2658.5" stroke="#000" stroke-width="3"/>
<text x="199.8" y="2672.9" font-size="50" text-anchor="end" textLength="53.5" lengthAdjust="spacingAndGlyphs">20</text>
<text x="199.8" y="2869.7" font-size="50" text-anchor="end" textLength="26.5" lengthAdjust="spacingAndGlyphs">0</text>
<text x="53.9" y="2281.3" font-size="50" textLength="64" lengthAdjust="spacingAndGlyphs">(c)</text>
<text x="366.8" y="2981.2" font-size="50" textLength="438.9" lengthAdjust="spacingAndGlyphs">Magnetic density/</text>
<text x="807.1" y="2981.2" font-size="50" textLength="37.6" lengthAdjust="spacingAndGlyphs">Å</text>
<text x="852.1" y="2967.8" font-size="31.5" textLength="27.2" lengthAdjust="spacingAndGlyphs" stroke-width="0.7">−</text>
<text x="883" y="2967.8" font-size="31.5" textLength="17.1" lengthAdjust="spacingAndGlyphs" stroke-width="0.7">3</text>
<text x="92.8" y="2560" font-size="50" text-anchor="middle" textLength="181.9" lengthAdjust="spacingAndGlyphs" transform="rotate(-90 92.3 2560)">Density</text>
<rect x="337.8" y="2289.3" width="78.4" height="43.4" fill="#4DC4B0"/>
<rect x="337.8" y="2348.4" width="78.4" height="43.4" fill="#DADAD5"/>
<line x1="336.4" y1="2428" x2="417.9" y2="2428" stroke="#000" stroke-width="3" stroke-dasharray="14.5 12.8" stroke-dashoffset="6" stroke-linecap="butt"/>
<text x="437.3" y="2324.6" font-size="50" textLength="264.4" lengthAdjust="spacingAndGlyphs">MatterGen</text>
<text x="437.3" y="2383.8" font-size="50" textLength="331.5" lengthAdjust="spacingAndGlyphs">Labelled data</text>
<text x="437.3" y="2441.8" font-size="50" textLength="155.7" lengthAdjust="spacingAndGlyphs">Target</text>
<!-- hist d -->
<rect x="1356.3" y="2329.9" width="36.4" height="525.4" fill="#DADAD5"/>
<rect x="1429.1" y="2826.1" width="36.9" height="29.2" fill="#DADAD5"/>
<rect x="1902.2" y="2852.2" width="36.4" height="3.1" fill="#DADAD5"/>
<rect x="1356.3" y="2806.6" width="36.9" height="48.7" fill="#4DC4B0"/>
<rect x="1392.7" y="2818.9" width="36.9" height="36.4" fill="#4DC4B0"/>
<rect x="1429.1" y="2830.7" width="37.4" height="24.6" fill="#4DC4B0"/>
<rect x="1466" y="2824.6" width="36.4" height="30.7" fill="#4DC4B0"/>
<rect x="1501.9" y="2806.6" width="37.4" height="48.7" fill="#4DC4B0"/>
<rect x="1538.8" y="2782" width="36.9" height="73.3" fill="#4DC4B0"/>
<rect x="1575.2" y="2764.1" width="36.4" height="91.2" fill="#4DC4B0"/>
<rect x="1611" y="2739.5" width="37.4" height="115.8" fill="#4DC4B0"/>
<rect x="1647.9" y="2782" width="36.4" height="73.3" fill="#4DC4B0"/>
<rect x="1683.8" y="2751.8" width="36.9" height="103.5" fill="#4DC4B0"/>
<rect x="1720.2" y="2800.5" width="36.9" height="54.8" fill="#4DC4B0"/>
<rect x="1756.6" y="2824.6" width="36.9" height="30.7" fill="#4DC4B0"/>
<rect x="1793" y="2843" width="36.9" height="12.3" fill="#4DC4B0"/>
<rect x="1829.4" y="2849.2" width="36.9" height="6.1" fill="#4DC4B0"/>
<rect x="1865.8" y="2830.7" width="36.9" height="24.6" fill="#4DC4B0"/>
<rect x="1938.6" y="2849.2" width="36.9" height="6.1" fill="#4DC4B0"/>
<rect x="2011.3" y="2849.2" width="36.9" height="6.1" fill="#4DC4B0"/>
<line x1="1648.3" y1="2264.3" x2="1648.3" y2="2855.3" stroke="#000" stroke-width="3" stroke-dasharray="14 13.4" stroke-dashoffset="3" stroke-linecap="round"/>
<rect x="1307.6" y="2264.3" width="827.3" height="591" fill="none" stroke="#000" stroke-width="3.1"/>
<line x1="1356.3" y1="2855.3" x2="1356.3" y2="2840.3" stroke="#000" stroke-width="3"/>
<text x="1356.8" y="2909.1" font-size="50" text-anchor="middle" textLength="26.5" lengthAdjust="spacingAndGlyphs">0</text>
<line x1="1551.1" y1="2855.3" x2="1551.1" y2="2840.3" stroke="#000" stroke-width="3"/>
<text x="1551.6" y="2909.1" font-size="50" text-anchor="middle" textLength="26.5" lengthAdjust="spacingAndGlyphs">2</text>
<line x1="1745.3" y1="2855.3" x2="1745.3" y2="2840.3" stroke="#000" stroke-width="3"/>
<text x="1745.8" y="2909.1" font-size="50" text-anchor="middle" textLength="26.5" lengthAdjust="spacingAndGlyphs">4</text>
<line x1="1940.1" y1="2855.3" x2="1940.1" y2="2840.3" stroke="#000" stroke-width="3"/>
<text x="1940.6" y="2909.1" font-size="50" text-anchor="middle" textLength="26.5" lengthAdjust="spacingAndGlyphs">6</text>
<text x="2135.4" y="2909.1" font-size="50" text-anchor="middle" textLength="26.5" lengthAdjust="spacingAndGlyphs">8</text>
<text x="1286.5" y="2278.7" font-size="50" text-anchor="end" textLength="67.5" lengthAdjust="spacingAndGlyphs">2.0</text>
<line x1="1307.6" y1="2412" x2="1322.6" y2="2412" stroke="#000" stroke-width="3"/>
<text x="1286.5" y="2426.4" font-size="50" text-anchor="end" textLength="67.5" lengthAdjust="spacingAndGlyphs">1.5</text>
<line x1="1307.6" y1="2559.6" x2="1322.6" y2="2559.6" stroke="#000" stroke-width="3"/>
<text x="1286.5" y="2574" font-size="50" text-anchor="end" textLength="67.5" lengthAdjust="spacingAndGlyphs">1.0</text>
<line x1="1307.6" y1="2707.2" x2="1322.6" y2="2707.2" stroke="#000" stroke-width="3"/>
<text x="1286.5" y="2721.6" font-size="50" text-anchor="end" textLength="67.5" lengthAdjust="spacingAndGlyphs">0.5</text>
<text x="1286.5" y="2869.7" font-size="50" text-anchor="end" textLength="26.5" lengthAdjust="spacingAndGlyphs">0</text>
<text x="1126.2" y="2281.3" font-size="50" textLength="69.1" lengthAdjust="spacingAndGlyphs">(d)</text>
<text x="1568.5" y="2980.9" font-size="50" textLength="307" lengthAdjust="spacingAndGlyphs">Bandgap/eV</text>
<text x="1165.1" y="2560" font-size="50" text-anchor="middle" textLength="181.9" lengthAdjust="spacingAndGlyphs" transform="rotate(-90 1164.6 2560)">Density</text>
<rect x="1687.9" y="2289.3" width="78.4" height="43.4" fill="#4DC4B0"/>
<rect x="1687.9" y="2348.4" width="78.4" height="43.4" fill="#DADAD5"/>
<line x1="1686.5" y1="2428" x2="1768" y2="2428" stroke="#000" stroke-width="3" stroke-dasharray="14.5 12.8" stroke-dashoffset="6" stroke-linecap="butt"/>
<text x="1787.4" y="2324.6" font-size="50" textLength="263.9" lengthAdjust="spacingAndGlyphs">MatterGen</text>
<text x="1787.4" y="2383.8" font-size="50" textLength="331.5" lengthAdjust="spacingAndGlyphs">Labelled data</text>
<text x="1787.4" y="2441.8" font-size="50" textLength="156.2" lengthAdjust="spacingAndGlyphs">Target</text>
<!-- hist e -->
<rect x="2465.8" y="2698.9" width="52.1" height="156.4" fill="#DADAD5"/>
<rect x="2517.4" y="2683.9" width="49.9" height="171.4" fill="#DADAD5"/>
<rect x="2566.8" y="2720.6" width="50.4" height="134.7" fill="#DADAD5"/>
<rect x="2616.8" y="2725.6" width="49.9" height="129.7" fill="#DADAD5"/>
<rect x="2666.2" y="2733.9" width="50.4" height="121.4" fill="#DADAD5"/>
<rect x="2716.1" y="2752.8" width="49.9" height="102.5" fill="#DADAD5"/>
<rect x="2765.5" y="2779.4" width="50.4" height="75.9" fill="#DADAD5"/>
<rect x="2815.4" y="2808.8" width="50.4" height="46.5" fill="#DADAD5"/>
<rect x="2865.4" y="2834.3" width="49.9" height="21" fill="#DADAD5"/>
<rect x="2914.8" y="2844.9" width="50.4" height="10.4" fill="#DADAD5"/>
<rect x="2517.4" y="2803.3" width="49.9" height="52" fill="#4DC4B0"/>
<rect x="2964.7" y="2648.4" width="100.4" height="206.9" fill="#4DC4B0"/>
<rect x="3064.6" y="2390.9" width="50.4" height="464.4" fill="#4DC4B0"/>
<rect x="3114.6" y="2803.3" width="50.4" height="52" fill="#4DC4B0"/>
<line x1="3127.3" y1="2264.3" x2="3127.3" y2="2855.3" stroke="#000" stroke-width="3" stroke-dasharray="14 13.4" stroke-dashoffset="3" stroke-linecap="round"/>
<rect x="2465.8" y="2264.3" width="826.9" height="591" fill="none" stroke="#000" stroke-width="3.1"/>
<text x="2471.9" y="2908" font-size="50" text-anchor="middle" textLength="26.5" lengthAdjust="spacingAndGlyphs">0</text>
<line x1="2797.1" y1="2855.3" x2="2797.1" y2="2840.3" stroke="#000" stroke-width="3"/>
<text x="2797.6" y="2908" font-size="50" text-anchor="middle" textLength="80.5" lengthAdjust="spacingAndGlyphs">200</text>
<line x1="3127.3" y1="2855.3" x2="3127.3" y2="2840.3" stroke="#000" stroke-width="3"/>
<text x="3127.8" y="2908" font-size="50" text-anchor="middle" textLength="80.5" lengthAdjust="spacingAndGlyphs">400</text>
<text x="2446.5" y="2278.8" font-size="50" text-anchor="end" textLength="126.5" lengthAdjust="spacingAndGlyphs">0.020</text>
<line x1="2465.8" y1="2412" x2="2480.8" y2="2412" stroke="#000" stroke-width="3"/>
<text x="2446.5" y="2426.4" font-size="50" text-anchor="end" textLength="126.5" lengthAdjust="spacingAndGlyphs">0.015</text>
<line x1="2465.8" y1="2559.6" x2="2480.8" y2="2559.6" stroke="#000" stroke-width="3"/>
<text x="2446.5" y="2574" font-size="50" text-anchor="end" textLength="126.5" lengthAdjust="spacingAndGlyphs">0.010</text>
<line x1="2465.8" y1="2707.2" x2="2480.8" y2="2707.2" stroke="#000" stroke-width="3"/>
<text x="2446.5" y="2721.6" font-size="50" text-anchor="end" textLength="126.5" lengthAdjust="spacingAndGlyphs">0.005</text>
<text x="2446.5" y="2869.8" font-size="50" text-anchor="end" textLength="26.5" lengthAdjust="spacingAndGlyphs">0</text>
<text x="2229.5" y="2281.6" font-size="50" textLength="63.5" lengthAdjust="spacingAndGlyphs">(e)</text>
<text x="2644.7" y="2980.3" font-size="50" textLength="471.9" lengthAdjust="spacingAndGlyphs">Bulk modulus/GPa</text>
<text x="2269.9" y="2560" font-size="50" text-anchor="middle" textLength="181.9" lengthAdjust="spacingAndGlyphs" transform="rotate(-90 2269.4 2560)">Density</text>
<rect x="2540.2" y="2289.4" width="78.8" height="43" fill="#4DC4B0"/>
<rect x="2540.2" y="2348.2" width="78.8" height="43" fill="#DADAD5"/>
<line x1="2539" y1="2428.1" x2="2620.7" y2="2428.1" stroke="#000" stroke-width="3" stroke-dasharray="14.5 12.8" stroke-dashoffset="6" stroke-linecap="butt"/>
<text x="2638.5" y="2324.3" font-size="50" textLength="265" lengthAdjust="spacingAndGlyphs">MatterGen</text>
<text x="2638.5" y="2383.7" font-size="50" textLength="332.7" lengthAdjust="spacingAndGlyphs">Labelled data</text>
<text x="2638.5" y="2442" font-size="50" textLength="156.8" lengthAdjust="spacingAndGlyphs">Target</text>
</svg>
</body></html>
